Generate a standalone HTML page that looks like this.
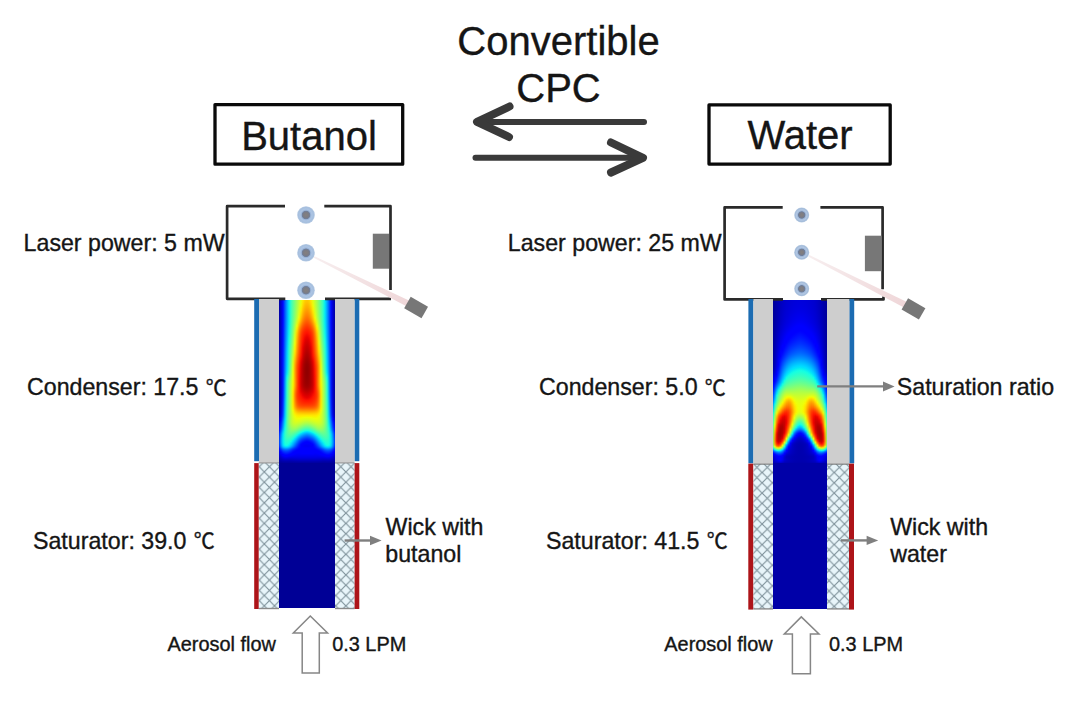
<!DOCTYPE html>
<html><head><meta charset="utf-8"><title>Convertible CPC</title>
<style>
html,body{margin:0;padding:0;background:#fff;}
#c{position:relative;width:1080px;height:701px;overflow:hidden;background:#fff;}
.hm{position:absolute;display:flex;flex-direction:column;}
.hm i{display:block;height:1px;flex:none;}
.sb{position:absolute;background:#00009c;}
svg{position:absolute;left:0;top:0;}
text{font-family:"Liberation Sans",sans-serif;fill:#151515;stroke:#151515;stroke-width:0.35px;}
.big{font-size:40px;}
.lab{font-size:23.2px;}
.sm{font-size:19.9px;}
.deg{font-family:"Liberation Sans","Noto Sans CJK SC",sans-serif;font-size:21px;}
</style></head><body><div id="c">
<div class="sb" style="left:279px;top:462px;width:56px;height:146px;background:#000096"></div>
<div class="sb" style="left:773px;top:462px;width:54px;height:146.8px;background:#0000a8"></div>
<div class="hm" style="left:279px;top:300px;width:56px;height:163px"><i style="background:linear-gradient(90deg,#0000a2,#0000cc,#0008ff,#005aff,#00a4ff,#02e8f5,#32ffc5,#5aff9d,#7eff79,#a1ff55,#c3ff34,#e3ff14,#ffe700,#ffcd00,#ffc500,#ffcd00,#ffe700,#e3ff14,#c3ff34,#a1ff55,#7eff79,#5aff9d,#32ffc5,#02e8f5,#00a4ff,#005aff,#0008ff,#0000cc,#0000a2)"></i><i style="background:linear-gradient(90deg,#0000a2,#0000cc,#0008ff,#005aff,#00a4ff,#02e8f5,#32ffc5,#5aff9d,#7eff79,#a2ff55,#c4ff33,#e4ff12,#ffe400,#ffca00,#ffc200,#ffca00,#ffe400,#e4ff12,#c4ff33,#a2ff55,#7eff79,#5aff9d,#32ffc5,#02e8f5,#00a4ff,#005aff,#0008ff,#0000cc,#0000a2)"></i><i style="background:linear-gradient(90deg,#0000a2,#0000cc,#0008ff,#005aff,#00a4ff,#02e8f5,#32ffc5,#5aff9d,#7fff78,#a2ff55,#c5ff32,#e6ff10,#ffe100,#ffc700,#ffbf00,#ffc700,#ffe100,#e6ff10,#c5ff32,#a2ff55,#7fff78,#5aff9d,#32ffc5,#02e8f5,#00a4ff,#005aff,#0008ff,#0000cc,#0000a2)"></i><i style="background:linear-gradient(90deg,#0000a2,#0000cc,#0008ff,#005aff,#00a4ff,#02e8f5,#32ffc5,#5aff9c,#7fff78,#a3ff54,#c6ff30,#e9ff0e,#ffdd00,#ffc300,#ffba00,#ffc300,#ffdd00,#e9ff0e,#c6ff30,#a3ff54,#7fff78,#5aff9c,#32ffc5,#02e8f5,#00a4ff,#005aff,#0008ff,#0000cc,#0000a2)"></i><i style="background:linear-gradient(90deg,#0000a2,#0000cc,#0008ff,#005aff,#00a4ff,#02e8f5,#32ffc5,#5bff9c,#7fff77,#a4ff53,#c8ff2f,#ecff0b,#ffda00,#ffbf00,#ffb600,#ffbf00,#ffda00,#ecff0b,#c8ff2f,#a4ff53,#7fff77,#5bff9c,#32ffc5,#02e8f5,#00a4ff,#005aff,#0008ff,#0000cc,#0000a2)"></i><i style="background:linear-gradient(90deg,#0000a2,#0000cc,#0008ff,#005aff,#00a4ff,#02e7f5,#32ffc5,#5bff9c,#80ff77,#a5ff52,#caff2d,#eeff08,#ffd600,#ffba00,#ffb200,#ffba00,#ffd600,#eeff08,#caff2d,#a5ff52,#80ff77,#5bff9c,#32ffc5,#02e7f5,#00a4ff,#005aff,#0008ff,#0000cc,#0000a2)"></i><i style="background:linear-gradient(90deg,#0000a2,#0000cc,#0008ff,#005aff,#00a4ff,#02e7f5,#32ffc5,#5cff9b,#81ff76,#a6ff51,#ccff2b,#f1fc05,#ffd200,#ffb600,#ffad00,#ffb600,#ffd200,#f1fc05,#ccff2b,#a6ff51,#81ff76,#5cff9b,#32ffc5,#02e7f5,#00a4ff,#005aff,#0008ff,#0000cc,#0000a2)"></i><i style="background:linear-gradient(90deg,#0000a2,#0000cc,#0008ff,#005aff,#00a4ff,#02e7f5,#32ffc5,#5cff9b,#82ff75,#a8ff4f,#ceff28,#f5f802,#ffcd00,#ffb200,#ffa900,#ffb200,#ffcd00,#f5f802,#ceff28,#a8ff4f,#82ff75,#5cff9b,#32ffc5,#02e7f5,#00a4ff,#005aff,#0008ff,#0000cc,#0000a2)"></i><i style="background:linear-gradient(90deg,#0000a2,#0000cc,#0008ff,#005aff,#00a4ff,#02e7f5,#32ffc4,#5dff9a,#83ff74,#a9ff4e,#d1ff26,#f8f400,#ffc900,#ffad00,#ffa400,#ffad00,#ffc900,#f8f400,#d1ff26,#a9ff4e,#83ff74,#5dff9a,#32ffc4,#02e7f5,#00a4ff,#005aff,#0008ff,#0000cc,#0000a2)"></i><i style="background:linear-gradient(90deg,#0000a2,#0000cc,#0008ff,#005aff,#00a4ff,#02e7f5,#33ffc4,#5dff9a,#84ff73,#abff4c,#d3ff23,#fcf000,#ffc400,#ffa800,#ff9f00,#ffa800,#ffc400,#fcf000,#d3ff23,#abff4c,#84ff73,#5dff9a,#33ffc4,#02e7f5,#00a4ff,#005aff,#0008ff,#0000cc,#0000a2)"></i><i style="background:linear-gradient(90deg,#0000a2,#0000cc,#0008ff,#005aff,#00a4ff,#02e7f5,#33ffc4,#5eff99,#85ff72,#adff4a,#d6ff20,#ffeb00,#ffc000,#ffa400,#ff9a00,#ffa400,#ffc000,#ffeb00,#d6ff20,#adff4a,#85ff72,#5eff99,#33ffc4,#02e7f5,#00a4ff,#005aff,#0008ff,#0000cc,#0000a2)"></i><i style="background:linear-gradient(90deg,#0000a2,#0000cc,#0008ff,#005aff,#00a4ff,#02e7f5,#33ffc4,#5fff98,#86ff71,#afff48,#d9ff1d,#ffe700,#ffbb00,#ff9f00,#ff9500,#ff9f00,#ffbb00,#ffe700,#d9ff1d,#afff48,#86ff71,#5fff98,#33ffc4,#02e7f5,#00a4ff,#005aff,#0008ff,#0000cc,#0000a2)"></i><i style="background:linear-gradient(90deg,#0000a2,#0000cc,#0008ff,#005aff,#00a4ff,#02e7f5,#33ffc4,#5fff98,#87ff6f,#b1ff46,#dcff1a,#ffe200,#ffb600,#ff9a00,#ff9000,#ff9a00,#ffb600,#ffe200,#dcff1a,#b1ff46,#87ff6f,#5fff98,#33ffc4,#02e7f5,#00a4ff,#005aff,#0008ff,#0000cc,#0000a2)"></i><i style="background:linear-gradient(90deg,#0000a2,#0000cc,#0008ff,#005aff,#00a4ff,#02e7f5,#33ffc3,#60ff97,#89ff6e,#b3ff44,#e0ff17,#ffde00,#ffb100,#ff9500,#ff8b00,#ff9500,#ffb100,#ffde00,#e0ff17,#b3ff44,#89ff6e,#60ff97,#33ffc3,#02e7f5,#00a4ff,#005aff,#0008ff,#0000cc,#0000a2)"></i><i style="background:linear-gradient(90deg,#0000a2,#0000cc,#0008ff,#005aff,#00a4ff,#02e7f5,#34ffc3,#61ff96,#8aff6d,#b5ff42,#e3ff14,#ffd900,#ffac00,#ff9000,#ff8600,#ff9000,#ffac00,#ffd900,#e3ff14,#b5ff42,#8aff6d,#61ff96,#34ffc3,#02e7f5,#00a4ff,#005aff,#0008ff,#0000cc,#0000a2)"></i><i style="background:linear-gradient(90deg,#0000a2,#0000cc,#0008ff,#005aff,#00a4ff,#02e8f5,#34ffc3,#62ff95,#8bff6b,#b7ff3f,#e6ff11,#ffd400,#ffa700,#ff8a00,#ff8100,#ff8a00,#ffa700,#ffd400,#e6ff11,#b7ff3f,#8bff6b,#62ff95,#34ffc3,#02e8f5,#00a4ff,#005aff,#0008ff,#0000cc,#0000a2)"></i><i style="background:linear-gradient(90deg,#0000a2,#0000cc,#0008ff,#005aff,#00a4ff,#02e8f5,#34ffc3,#62ff94,#8dff6a,#baff3d,#eaff0d,#ffce00,#ffa100,#ff8500,#ff7b00,#ff8500,#ffa100,#ffce00,#eaff0d,#baff3d,#8dff6a,#62ff94,#34ffc3,#02e8f5,#00a4ff,#005aff,#0008ff,#0000cc,#0000a2)"></i><i style="background:linear-gradient(90deg,#0000a2,#0000cc,#0008ff,#005aff,#00a4ff,#02e8f5,#35ffc2,#63ff93,#8fff68,#bdff3a,#eeff08,#ffc800,#ff9b00,#ff7f00,#ff7500,#ff7f00,#ff9b00,#ffc800,#eeff08,#bdff3a,#8fff68,#63ff93,#35ffc2,#02e8f5,#00a4ff,#005aff,#0008ff,#0000cc,#0000a2)"></i><i style="background:linear-gradient(90deg,#0000a2,#0000cc,#0008ff,#005bff,#00a4ff,#02e8f5,#35ffc2,#65ff92,#92ff65,#c1ff36,#f4f903,#ffc100,#ff9400,#ff7900,#ff6f00,#ff7900,#ff9400,#ffc100,#f4f903,#c1ff36,#92ff65,#65ff92,#35ffc2,#02e8f5,#00a4ff,#005bff,#0008ff,#0000cc,#0000a2)"></i><i style="background:linear-gradient(90deg,#0000a2,#0000cc,#0009ff,#005bff,#00a5ff,#02e8f4,#36ffc1,#66ff91,#95ff62,#c6ff31,#faf200,#ffba00,#ff8d00,#ff7200,#ff6900,#ff7200,#ff8d00,#ffba00,#faf200,#c6ff31,#95ff62,#66ff91,#36ffc1,#02e8f4,#00a5ff,#005bff,#0009ff,#0000cc,#0000a2)"></i><i style="background:linear-gradient(90deg,#0000a2,#0000cc,#0009ff,#005bff,#00a5ff,#03e9f4,#37ffc0,#68ff8f,#98ff5f,#cbff2c,#ffeb00,#ffb100,#ff8600,#ff6b00,#ff6200,#ff6b00,#ff8600,#ffb100,#ffeb00,#cbff2c,#98ff5f,#68ff8f,#37ffc0,#03e9f4,#00a5ff,#005bff,#0009ff,#0000cc,#0000a2)"></i><i style="background:linear-gradient(90deg,#0000a2,#0000cc,#0009ff,#005cff,#00a5ff,#03eaf3,#37ffbf,#6aff8d,#9cff5b,#d1ff26,#ffe300,#ffa900,#ff7e00,#ff6400,#ff5b00,#ff6400,#ff7e00,#ffa900,#ffe300,#d1ff26,#9cff5b,#6aff8d,#37ffbf,#03eaf3,#00a5ff,#005cff,#0009ff,#0000cc,#0000a2)"></i><i style="background:linear-gradient(90deg,#0000a2,#0000cc,#0009ff,#005cff,#00a6ff,#04eaf3,#39ffbe,#6cff8b,#a0ff57,#d7ff20,#ffda00,#ffa000,#ff7500,#ff5d00,#ff5400,#ff5d00,#ff7500,#ffa000,#ffda00,#d7ff20,#a0ff57,#6cff8b,#39ffbe,#04eaf3,#00a6ff,#005cff,#0009ff,#0000cc,#0000a2)"></i><i style="background:linear-gradient(90deg,#0000a2,#0000cb,#0009ff,#005dff,#00a6ff,#05ebf2,#3affbd,#6eff89,#a4ff53,#ddff1a,#ffd100,#ff9600,#ff6d00,#ff5600,#ff4d00,#ff5600,#ff6d00,#ff9600,#ffd100,#ddff1a,#a4ff53,#6eff89,#3affbd,#05ebf2,#00a6ff,#005dff,#0009ff,#0000cb,#0000a2)"></i><i style="background:linear-gradient(90deg,#0000a2,#0000cb,#000aff,#005dff,#00a7ff,#05ecf1,#3bffbc,#70ff87,#a9ff4e,#e4ff13,#ffc800,#ff8d00,#ff6500,#ff4e00,#ff4600,#ff4e00,#ff6500,#ff8d00,#ffc800,#e4ff13,#a9ff4e,#70ff87,#3bffbc,#05ecf1,#00a7ff,#005dff,#000aff,#0000cb,#0000a2)"></i><i style="background:linear-gradient(90deg,#0000a2,#0000cb,#000aff,#005eff,#00a8ff,#06edf1,#3cffbb,#72ff85,#adff49,#ebff0c,#ffbf00,#ff8300,#ff5c00,#ff4700,#ff3f00,#ff4700,#ff5c00,#ff8300,#ffbf00,#ebff0c,#adff49,#72ff85,#3cffbb,#06edf1,#00a8ff,#005eff,#000aff,#0000cb,#0000a2)"></i><i style="background:linear-gradient(90deg,#0000a2,#0000cb,#000aff,#005eff,#00a8ff,#07eef0,#3dffb9,#75ff82,#b2ff45,#f2fc05,#ffb600,#ff7a00,#ff5400,#ff4000,#ff3800,#ff4000,#ff5400,#ff7a00,#ffb600,#f2fc05,#b2ff45,#75ff82,#3dffb9,#07eef0,#00a8ff,#005eff,#000aff,#0000cb,#0000a2)"></i><i style="background:linear-gradient(90deg,#0000a2,#0000cb,#000bff,#005fff,#00a9ff,#08efef,#3fffb8,#77ff80,#b7ff40,#f8f400,#ffad00,#ff7100,#ff4c00,#ff3900,#ff3100,#ff3900,#ff4c00,#ff7100,#ffad00,#f8f400,#b7ff40,#77ff80,#3fffb8,#08efef,#00a9ff,#005fff,#000bff,#0000cb,#0000a2)"></i><i style="background:linear-gradient(90deg,#0000a2,#0000cb,#000bff,#0060ff,#00aaff,#09f0ee,#40ffb7,#79ff7d,#bbff3b,#ffec00,#ffa400,#ff6800,#ff4500,#ff3200,#ff2b00,#ff3200,#ff4500,#ff6800,#ffa400,#ffec00,#bbff3b,#79ff7d,#40ffb7,#09f0ee,#00aaff,#0060ff,#000bff,#0000cb,#0000a2)"></i><i style="background:linear-gradient(90deg,#0000a2,#0000cb,#000bff,#0061ff,#00abff,#0af2ed,#42ffb5,#7cff7b,#c0ff37,#ffe500,#ff9c00,#ff6000,#ff3e00,#ff2b00,#ff2400,#ff2b00,#ff3e00,#ff6000,#ff9c00,#ffe500,#c0ff37,#7cff7b,#42ffb5,#0af2ed,#00abff,#0061ff,#000bff,#0000cb,#0000a2)"></i><i style="background:linear-gradient(90deg,#0000a2,#0000cb,#000cff,#0061ff,#00acff,#0bf3ec,#43ffb4,#7eff78,#c4ff32,#ffde00,#ff9500,#ff5900,#ff3700,#ff2500,#ff1e00,#ff2500,#ff3700,#ff5900,#ff9500,#ffde00,#c4ff32,#7eff78,#43ffb4,#0bf3ec,#00acff,#0061ff,#000cff,#0000cb,#0000a2)"></i><i style="background:linear-gradient(90deg,#0000a2,#0000cb,#000cff,#0062ff,#00acff,#0cf4eb,#45ffb2,#81ff76,#c9ff2e,#ffd800,#ff8e00,#ff5200,#ff3100,#ff1f00,#ff1900,#ff1f00,#ff3100,#ff5200,#ff8e00,#ffd800,#c9ff2e,#81ff76,#45ffb2,#0cf4eb,#00acff,#0062ff,#000cff,#0000cb,#0000a2)"></i><i style="background:linear-gradient(90deg,#0000a2,#0000cb,#000cff,#0063ff,#00adff,#0df5ea,#46ffb1,#83ff74,#cdff2a,#ffd200,#ff8800,#ff4d00,#ff2b00,#ff1a00,#ff1300,#ff1a00,#ff2b00,#ff4d00,#ff8800,#ffd200,#cdff2a,#83ff74,#46ffb1,#0df5ea,#00adff,#0063ff,#000cff,#0000cb,#0000a2)"></i><i style="background:linear-gradient(90deg,#0000a2,#0000cb,#000cff,#0063ff,#00aeff,#0ef6e9,#47ffaf,#86ff71,#d0ff26,#ffcd00,#ff8300,#ff4800,#ff2700,#ff1600,#fa0f00,#ff1600,#ff2700,#ff4800,#ff8300,#ffcd00,#d0ff26,#86ff71,#47ffaf,#0ef6e9,#00aeff,#0063ff,#000cff,#0000cb,#0000a2)"></i><i style="background:linear-gradient(90deg,#0000a2,#0000cc,#000dff,#0064ff,#00afff,#0ff8e8,#49ffae,#88ff6f,#d4ff23,#ffc900,#ff7f00,#ff4400,#ff2300,#fd1100,#f50a00,#fd1100,#ff2300,#ff4400,#ff7f00,#ffc900,#d4ff23,#88ff6f,#49ffae,#0ff8e8,#00afff,#0064ff,#000dff,#0000cc,#0000a2)"></i><i style="background:linear-gradient(90deg,#0000a2,#0000cc,#000dff,#0065ff,#00b0ff,#10f9e7,#4bffac,#8aff6d,#d7ff20,#ffc500,#ff7c00,#ff4100,#ff1f00,#f80d00,#f00600,#f80d00,#ff1f00,#ff4100,#ff7c00,#ffc500,#d7ff20,#8aff6d,#4bffac,#10f9e7,#00b0ff,#0065ff,#000dff,#0000cc,#0000a2)"></i><i style="background:linear-gradient(90deg,#0000a2,#0000cc,#000dff,#0065ff,#00b1ff,#11fbe6,#4cffaa,#8dff6a,#daff1d,#ffc100,#ff7800,#ff3e00,#ff1c00,#f40a00,#eb0200,#f40a00,#ff1c00,#ff3e00,#ff7800,#ffc100,#daff1d,#8dff6a,#4cffaa,#11fbe6,#00b1ff,#0065ff,#000dff,#0000cc,#0000a2)"></i><i style="background:linear-gradient(90deg,#0000a2,#0000cc,#000eff,#0066ff,#00b3ff,#13fce4,#4effa9,#8fff68,#ddff1a,#ffbe00,#ff7500,#ff3b00,#ff1900,#ef0600,#e60000,#ef0600,#ff1900,#ff3b00,#ff7500,#ffbe00,#ddff1a,#8fff68,#4effa9,#13fce4,#00b3ff,#0066ff,#000eff,#0000cc,#0000a2)"></i><i style="background:linear-gradient(90deg,#0000a2,#0000cc,#000eff,#0067ff,#00b4ff,#14fee3,#50ffa7,#92ff65,#e0ff17,#ffba00,#ff7300,#ff3900,#ff1600,#eb0300,#e20000,#eb0300,#ff1600,#ff3900,#ff7300,#ffba00,#e0ff17,#92ff65,#50ffa7,#14fee3,#00b4ff,#0067ff,#000eff,#0000cc,#0000a2)"></i><i style="background:linear-gradient(90deg,#0000a2,#0000cc,#000eff,#0067ff,#00b6ff,#16ffe1,#52ffa5,#94ff62,#e3ff14,#ffb700,#ff7000,#ff3700,#ff1300,#e70000,#dd0000,#e70000,#ff1300,#ff3700,#ff7000,#ffb700,#e3ff14,#94ff62,#52ffa5,#16ffe1,#00b6ff,#0067ff,#000eff,#0000cc,#0000a2)"></i><i style="background:linear-gradient(90deg,#0000a2,#0000cd,#000fff,#0068ff,#00b7ff,#17ffdf,#54ffa2,#97ff60,#e6ff11,#ffb400,#ff6e00,#ff3400,#fc1000,#e30000,#d90000,#e30000,#fc1000,#ff3400,#ff6e00,#ffb400,#e6ff11,#97ff60,#54ffa2,#17ffdf,#00b7ff,#0068ff,#000fff,#0000cd,#0000a2)"></i><i style="background:linear-gradient(90deg,#0000a2,#0000cd,#000fff,#0069ff,#00b9ff,#19ffde,#57ffa0,#9aff5d,#e9ff0e,#ffb100,#ff6b00,#ff3200,#f90e00,#df0000,#d50000,#df0000,#f90e00,#ff3200,#ff6b00,#ffb100,#e9ff0e,#9aff5d,#57ffa0,#19ffde,#00b9ff,#0069ff,#000fff,#0000cd,#0000a2)"></i><i style="background:linear-gradient(90deg,#0000a2,#0000cd,#0010ff,#006aff,#00bbff,#1bffdc,#59ff9e,#9cff5a,#ecff0b,#ffaf00,#ff6900,#ff3100,#f60b00,#db0000,#d10000,#db0000,#f60b00,#ff3100,#ff6900,#ffaf00,#ecff0b,#9cff5a,#59ff9e,#1bffdc,#00bbff,#006aff,#0010ff,#0000cd,#0000a2)"></i><i style="background:linear-gradient(90deg,#0000a2,#0000ce,#0010ff,#006bff,#00bcff,#1dffda,#5bff9c,#9fff58,#eeff08,#ffac00,#ff6700,#ff2f00,#f30900,#d80000,#ce0000,#d80000,#f30900,#ff2f00,#ff6700,#ffac00,#eeff08,#9fff58,#5bff9c,#1dffda,#00bcff,#006bff,#0010ff,#0000ce,#0000a2)"></i><i style="background:linear-gradient(90deg,#0000a2,#0000ce,#0010ff,#006bff,#00beff,#1fffd8,#5dff99,#a2ff55,#f1fc06,#ffa900,#ff6500,#ff2d00,#f00700,#d50000,#ca0000,#d50000,#f00700,#ff2d00,#ff6500,#ffa900,#f1fc06,#a2ff55,#5dff99,#1fffd8,#00beff,#006bff,#0010ff,#0000ce,#0000a2)"></i><i style="background:linear-gradient(90deg,#0000a2,#0000ce,#0011ff,#006cff,#00c0ff,#21ffd6,#60ff97,#a5ff52,#f4f903,#ffa600,#ff6300,#ff2b00,#ed0500,#d10000,#c60000,#d10000,#ed0500,#ff2b00,#ff6300,#ffa600,#f4f903,#a5ff52,#60ff97,#21ffd6,#00c0ff,#006cff,#0011ff,#0000ce,#0000a2)"></i><i style="background:linear-gradient(90deg,#0000a3,#0000cf,#0011ff,#006dff,#00c1ff,#23ffd4,#62ff95,#a8ff4f,#f7f500,#ffa400,#ff6100,#ff2900,#eb0200,#ce0000,#c30000,#ce0000,#eb0200,#ff2900,#ff6100,#ffa400,#f7f500,#a8ff4f,#62ff95,#23ffd4,#00c1ff,#006dff,#0011ff,#0000cf,#0000a3)"></i><i style="background:linear-gradient(90deg,#0000a3,#0000cf,#0012ff,#006eff,#00c3ff,#24ffd2,#64ff92,#aaff4c,#faf200,#ffa100,#ff5e00,#ff2700,#e80000,#cb0000,#c00000,#cb0000,#e80000,#ff2700,#ff5e00,#ffa100,#faf200,#aaff4c,#64ff92,#24ffd2,#00c3ff,#006eff,#0012ff,#0000cf,#0000a3)"></i><i style="background:linear-gradient(90deg,#0000a3,#0000cf,#0012ff,#006fff,#00c5ff,#26ffd1,#67ff90,#adff4a,#fdef00,#ff9e00,#ff5c00,#ff2500,#e50000,#c80000,#bd0000,#c80000,#e50000,#ff2500,#ff5c00,#ff9e00,#fdef00,#adff4a,#67ff90,#26ffd1,#00c5ff,#006fff,#0012ff,#0000cf,#0000a3)"></i><i style="background:linear-gradient(90deg,#0000a3,#0000cf,#0013ff,#0070ff,#00c6ff,#28ffcf,#69ff8e,#b0ff47,#ffec00,#ff9b00,#ff5a00,#ff2300,#e30000,#c50000,#ba0000,#c50000,#e30000,#ff2300,#ff5a00,#ff9b00,#ffec00,#b0ff47,#69ff8e,#28ffcf,#00c6ff,#0070ff,#0013ff,#0000cf,#0000a3)"></i><i style="background:linear-gradient(90deg,#0000a3,#0000cf,#0013ff,#0070ff,#00c8ff,#29ffcd,#6bff8c,#b3ff44,#ffe800,#ff9800,#ff5700,#ff2100,#e00000,#c20000,#b70000,#c20000,#e00000,#ff2100,#ff5700,#ff9800,#ffe800,#b3ff44,#6bff8c,#29ffcd,#00c8ff,#0070ff,#0013ff,#0000cf,#0000a3)"></i><i style="background:linear-gradient(90deg,#0000a3,#0000cf,#0013ff,#0071ff,#00c9ff,#2bffcc,#6dff8a,#b6ff41,#ffe500,#ff9500,#ff5500,#ff1f00,#dd0000,#bf0000,#b40000,#bf0000,#dd0000,#ff1f00,#ff5500,#ff9500,#ffe500,#b6ff41,#6dff8a,#2bffcc,#00c9ff,#0071ff,#0013ff,#0000cf,#0000a3)"></i><i style="background:linear-gradient(90deg,#0000a3,#0000d0,#0014ff,#0072ff,#00caff,#2cffcb,#6fff88,#b8ff3e,#ffe100,#ff9100,#ff5200,#ff1d00,#da0000,#bc0000,#b10000,#bc0000,#da0000,#ff1d00,#ff5200,#ff9100,#ffe100,#b8ff3e,#6fff88,#2cffcb,#00caff,#0072ff,#0014ff,#0000d0,#0000a3)"></i><i style="background:linear-gradient(90deg,#0000a3,#0000d0,#0014ff,#0073ff,#00cbff,#2dffc9,#71ff86,#bbff3b,#ffdd00,#ff8e00,#ff4f00,#ff1a00,#d70000,#b90000,#ae0000,#b90000,#d70000,#ff1a00,#ff4f00,#ff8e00,#ffdd00,#bbff3b,#71ff86,#2dffc9,#00cbff,#0073ff,#0014ff,#0000d0,#0000a3)"></i><i style="background:linear-gradient(90deg,#0000a3,#0000d0,#0014ff,#0073ff,#00ccff,#2effc8,#73ff84,#beff38,#ffd900,#ff8a00,#ff4b00,#ff1700,#d40000,#b60000,#ab0000,#b60000,#d40000,#ff1700,#ff4b00,#ff8a00,#ffd900,#beff38,#73ff84,#2effc8,#00ccff,#0073ff,#0014ff,#0000d0,#0000a3)"></i><i style="background:linear-gradient(90deg,#0000a3,#0000d0,#0015ff,#0074ff,#00cdff,#2fffc7,#75ff82,#c2ff35,#ffd400,#ff8500,#ff4800,#ff1400,#d10000,#b30000,#a80000,#b30000,#d10000,#ff1400,#ff4800,#ff8500,#ffd400,#c2ff35,#75ff82,#2fffc7,#00cdff,#0074ff,#0015ff,#0000d0,#0000a3)"></i><i style="background:linear-gradient(90deg,#0000a3,#0000d0,#0015ff,#0075ff,#00ceff,#30ffc6,#77ff80,#c5ff32,#ffcf00,#ff8100,#ff4400,#fd1100,#cd0000,#b00000,#a60000,#b00000,#cd0000,#fd1100,#ff4400,#ff8100,#ffcf00,#c5ff32,#77ff80,#30ffc6,#00ceff,#0075ff,#0015ff,#0000d0,#0000a3)"></i><i style="background:linear-gradient(90deg,#0000a3,#0000d0,#0016ff,#0076ff,#00ceff,#31ffc5,#79ff7e,#c8ff2e,#ffca00,#ff7c00,#ff4000,#f90e00,#ca0000,#ad0000,#a30000,#ad0000,#ca0000,#f90e00,#ff4000,#ff7c00,#ffca00,#c8ff2e,#79ff7e,#31ffc5,#00ceff,#0076ff,#0016ff,#0000d0,#0000a3)"></i><i style="background:linear-gradient(90deg,#0000a3,#0000d0,#0016ff,#0077ff,#00cfff,#32ffc4,#7aff7c,#ccff2b,#ffc500,#ff7700,#ff3c00,#f50b00,#c60000,#aa0000,#a00000,#aa0000,#c60000,#f50b00,#ff3c00,#ff7700,#ffc500,#ccff2b,#7aff7c,#32ffc4,#00cfff,#0077ff,#0016ff,#0000d0,#0000a3)"></i><i style="background:linear-gradient(90deg,#0000a3,#0000d0,#0016ff,#0077ff,#00d0ff,#33ffc4,#7cff7b,#cfff28,#ffc100,#ff7300,#ff3900,#f10700,#c30000,#a70000,#9d0000,#a70000,#c30000,#f10700,#ff3900,#ff7300,#ffc100,#cfff28,#7cff7b,#33ffc4,#00d0ff,#0077ff,#0016ff,#0000d0,#0000a3)"></i><i style="background:linear-gradient(90deg,#0000a3,#0000d0,#0017ff,#0078ff,#00d1ff,#34ffc3,#7eff79,#d2ff25,#ffbc00,#ff6e00,#ff3500,#ed0400,#c00000,#a50000,#9b0000,#a50000,#c00000,#ed0400,#ff3500,#ff6e00,#ffbc00,#d2ff25,#7eff79,#34ffc3,#00d1ff,#0078ff,#0017ff,#0000d0,#0000a3)"></i><i style="background:linear-gradient(90deg,#0000a3,#0000d0,#0017ff,#0079ff,#00d1ff,#35ffc2,#80ff77,#d5ff21,#ffb700,#ff6a00,#ff3100,#e90100,#bc0000,#a20000,#980000,#a20000,#bc0000,#e90100,#ff3100,#ff6a00,#ffb700,#d5ff21,#80ff77,#35ffc2,#00d1ff,#0079ff,#0017ff,#0000d0,#0000a3)"></i><i style="background:linear-gradient(90deg,#0000a2,#0000d0,#0018ff,#007aff,#00d2ff,#36ffc1,#82ff75,#d8ff1e,#ffb300,#ff6500,#ff2d00,#e50000,#ba0000,#a00000,#960000,#a00000,#ba0000,#e50000,#ff2d00,#ff6500,#ffb300,#d8ff1e,#82ff75,#36ffc1,#00d2ff,#007aff,#0018ff,#0000d0,#0000a2)"></i><i style="background:linear-gradient(90deg,#0000a2,#0000d0,#0018ff,#007bff,#00d3ff,#37ffc0,#83ff73,#dbff1b,#ffaf00,#ff6200,#ff2a00,#e20000,#b70000,#9d0000,#940000,#9d0000,#b70000,#e20000,#ff2a00,#ff6200,#ffaf00,#dbff1b,#83ff73,#37ffc0,#00d3ff,#007bff,#0018ff,#0000d0,#0000a2)"></i><i style="background:linear-gradient(90deg,#0000a2,#0000d0,#0018ff,#007bff,#00d4ff,#38ffbf,#85ff71,#deff19,#ffab00,#ff5e00,#ff2700,#df0000,#b40000,#9b0000,#920000,#9b0000,#b40000,#df0000,#ff2700,#ff5e00,#ffab00,#deff19,#85ff71,#38ffbf,#00d4ff,#007bff,#0018ff,#0000d0,#0000a2)"></i><i style="background:linear-gradient(90deg,#0000a2,#0000d0,#0019ff,#007cff,#00d5ff,#39ffbd,#87ff70,#e0ff16,#ffa800,#ff5b00,#ff2400,#dc0000,#b20000,#9a0000,#910000,#9a0000,#b20000,#dc0000,#ff2400,#ff5b00,#ffa800,#e0ff16,#87ff70,#39ffbd,#00d5ff,#007cff,#0019ff,#0000d0,#0000a2)"></i><i style="background:linear-gradient(90deg,#0000a2,#0000cf,#0019ff,#007dff,#00d6ff,#3bffbc,#89ff6e,#e3ff14,#ffa600,#ff5900,#ff2200,#da0000,#b10000,#990000,#900000,#990000,#b10000,#da0000,#ff2200,#ff5900,#ffa600,#e3ff14,#89ff6e,#3bffbc,#00d6ff,#007dff,#0019ff,#0000cf,#0000a2)"></i><i style="background:linear-gradient(90deg,#0000a2,#0000cf,#0019ff,#007eff,#00d8ff,#3cffbb,#8bff6c,#e5ff12,#ffa400,#ff5700,#ff2000,#d80000,#b00000,#980000,#8f0000,#980000,#b00000,#d80000,#ff2000,#ff5700,#ffa400,#e5ff12,#8bff6c,#3cffbb,#00d8ff,#007eff,#0019ff,#0000cf,#0000a2)"></i><i style="background:linear-gradient(90deg,#0000a2,#0000cf,#001aff,#007fff,#00d9ff,#3effb9,#8dff6a,#e6ff11,#ffa300,#ff5500,#ff1e00,#d60000,#af0000,#970000,#8f0000,#970000,#af0000,#d60000,#ff1e00,#ff5500,#ffa300,#e6ff11,#8dff6a,#3effb9,#00d9ff,#007fff,#001aff,#0000cf,#0000a2)"></i><i style="background:linear-gradient(90deg,#0000a2,#0000cf,#001aff,#0080ff,#00dbff,#40ffb7,#8fff67,#e7ff0f,#ffa300,#ff5500,#ff1c00,#d50000,#af0000,#970000,#8e0000,#970000,#af0000,#d50000,#ff1c00,#ff5500,#ffa300,#e7ff0f,#8fff67,#40ffb7,#00dbff,#0080ff,#001aff,#0000cf,#0000a2)"></i><i style="background:linear-gradient(90deg,#0000a2,#0000cf,#001aff,#0082ff,#00defd,#42ffb4,#92ff65,#e9ff0e,#ffa300,#ff5400,#ff1b00,#d40000,#ae0000,#970000,#8f0000,#970000,#ae0000,#d40000,#ff1b00,#ff5400,#ffa300,#e9ff0e,#92ff65,#42ffb4,#00defd,#0082ff,#001aff,#0000cf,#0000a2)"></i><i style="background:linear-gradient(90deg,#0000a2,#0000cf,#001aff,#0083ff,#00e1fa,#46ffb1,#95ff62,#eaff0d,#ffa300,#ff5400,#ff1a00,#d40000,#ae0000,#970000,#8f0000,#970000,#ae0000,#d40000,#ff1a00,#ff5400,#ffa300,#eaff0d,#95ff62,#46ffb1,#00e1fa,#0083ff,#001aff,#0000cf,#0000a2)"></i><i style="background:linear-gradient(90deg,#0000a2,#0000cf,#001aff,#0085ff,#00e5f7,#4affad,#98ff5f,#ebff0c,#ffa300,#ff5400,#ff1900,#d30000,#ae0000,#970000,#8f0000,#970000,#ae0000,#d30000,#ff1900,#ff5400,#ffa300,#ebff0c,#98ff5f,#4affad,#00e5f7,#0085ff,#001aff,#0000cf,#0000a2)"></i><i style="background:linear-gradient(90deg,#0000a2,#0000ce,#001aff,#0087ff,#04eaf3,#4effa9,#9bff5c,#ecff0b,#ffa300,#ff5400,#ff1800,#d20000,#ae0000,#980000,#8f0000,#980000,#ae0000,#d20000,#ff1800,#ff5400,#ffa300,#ecff0b,#9bff5c,#4effa9,#04eaf3,#0087ff,#001aff,#0000ce,#0000a2)"></i><i style="background:linear-gradient(90deg,#0000a1,#0000ce,#001aff,#0089ff,#08efef,#53ffa4,#9eff59,#edff0a,#ffa400,#ff5400,#ff1700,#d10000,#ae0000,#980000,#900000,#980000,#ae0000,#d10000,#ff1700,#ff5400,#ffa400,#edff0a,#9eff59,#53ffa4,#08efef,#0089ff,#001aff,#0000ce,#0000a1)"></i><i style="background:linear-gradient(90deg,#0000a1,#0000cd,#001aff,#008bff,#0cf5eb,#58ff9f,#a2ff55,#eeff09,#ffa400,#ff5300,#ff1600,#d10000,#ae0000,#990000,#900000,#990000,#ae0000,#d10000,#ff1600,#ff5300,#ffa400,#eeff09,#a2ff55,#58ff9f,#0cf5eb,#008bff,#001aff,#0000cd,#0000a1)"></i><i style="background:linear-gradient(90deg,#0000a1,#0000cd,#001aff,#008dff,#11fae6,#5dff99,#a5ff52,#efff08,#ffa400,#ff5300,#ff1500,#d00000,#ae0000,#990000,#910000,#990000,#ae0000,#d00000,#ff1500,#ff5300,#ffa400,#efff08,#a5ff52,#5dff99,#11fae6,#008dff,#001aff,#0000cd,#0000a1)"></i><i style="background:linear-gradient(90deg,#0000a1,#0000cd,#001bff,#008fff,#15ffe2,#62ff94,#a8ff4e,#f0fe07,#ffa500,#ff5300,#ff1500,#d00000,#ae0000,#9a0000,#920000,#9a0000,#ae0000,#d00000,#ff1500,#ff5300,#ffa500,#f0fe07,#a8ff4e,#62ff94,#15ffe2,#008fff,#001bff,#0000cd,#0000a1)"></i><i style="background:linear-gradient(90deg,#0000a1,#0000cc,#001bff,#0091ff,#1affdd,#67ff8f,#acff4b,#f1fd06,#ffa500,#ff5300,#ff1400,#cf0000,#af0000,#9a0000,#930000,#9a0000,#af0000,#cf0000,#ff1400,#ff5300,#ffa500,#f1fd06,#acff4b,#67ff8f,#1affdd,#0091ff,#001bff,#0000cc,#0000a1)"></i><i style="background:linear-gradient(90deg,#0000a1,#0000cc,#001bff,#0093ff,#1effd9,#6cff8b,#afff48,#f1fc05,#ffa600,#ff5400,#ff1300,#cf0000,#af0000,#9b0000,#940000,#9b0000,#af0000,#cf0000,#ff1300,#ff5400,#ffa600,#f1fc05,#afff48,#6cff8b,#1effd9,#0093ff,#001bff,#0000cc,#0000a1)"></i><i style="background:linear-gradient(90deg,#0000a0,#0000cb,#001bff,#0095ff,#22ffd5,#70ff87,#b1ff45,#f2fb04,#ffa600,#ff5400,#ff1300,#ce0000,#af0000,#9c0000,#950000,#9c0000,#af0000,#ce0000,#ff1300,#ff5400,#ffa600,#f2fb04,#b1ff45,#70ff87,#22ffd5,#0095ff,#001bff,#0000cb,#0000a0)"></i><i style="background:linear-gradient(90deg,#0000a0,#0000cb,#001bff,#0097ff,#25ffd2,#74ff83,#b4ff43,#f3fa04,#ffa600,#ff5300,#ff1300,#ce0000,#af0000,#9c0000,#960000,#9c0000,#af0000,#ce0000,#ff1300,#ff5300,#ffa600,#f3fa04,#b4ff43,#74ff83,#25ffd2,#0097ff,#001bff,#0000cb,#0000a0)"></i><i style="background:linear-gradient(90deg,#0000a0,#0000cb,#001bff,#0099ff,#28ffcf,#76ff80,#b5ff41,#f4f903,#ffa600,#ff5300,#fe1200,#ce0000,#af0000,#9d0000,#970000,#9d0000,#af0000,#ce0000,#fe1200,#ff5300,#ffa600,#f4f903,#b5ff41,#76ff80,#28ffcf,#0099ff,#001bff,#0000cb,#0000a0)"></i><i style="background:linear-gradient(90deg,#0000a0,#0000cb,#001bff,#009aff,#2affcd,#78ff7f,#b7ff40,#f5f802,#ffa600,#ff5300,#fe1200,#ce0000,#b00000,#9e0000,#980000,#9e0000,#b00000,#ce0000,#fe1200,#ff5300,#ffa600,#f5f802,#b7ff40,#78ff7f,#2affcd,#009aff,#001bff,#0000cb,#0000a0)"></i><i style="background:linear-gradient(90deg,#0000a0,#0000cb,#001bff,#009bff,#2bffcc,#7aff7d,#b8ff3f,#f6f701,#ffa500,#ff5300,#fe1200,#ce0000,#b10000,#a00000,#9a0000,#a00000,#b10000,#ce0000,#fe1200,#ff5300,#ffa500,#f6f701,#b8ff3f,#7aff7d,#2bffcc,#009bff,#001bff,#0000cb,#0000a0)"></i><i style="background:linear-gradient(90deg,#0000a0,#0000cb,#001cff,#009cff,#2cffcb,#7aff7c,#b9ff3e,#f7f600,#ffa400,#ff5200,#fe1200,#d00000,#b20000,#a20000,#9c0000,#a20000,#b20000,#d00000,#fe1200,#ff5200,#ffa400,#f7f600,#b9ff3e,#7aff7c,#2cffcb,#009cff,#001cff,#0000cb,#0000a0)"></i><i style="background:linear-gradient(90deg,#0000a0,#0000ca,#001cff,#009dff,#2dffca,#7bff7c,#baff3d,#f8f400,#ffa100,#ff5000,#ff1300,#d20000,#b50000,#a50000,#a00000,#a50000,#b50000,#d20000,#ff1300,#ff5000,#ffa100,#f8f400,#baff3d,#7bff7c,#2dffca,#009dff,#001cff,#0000ca,#0000a0)"></i><i style="background:linear-gradient(90deg,#0000a0,#0000ca,#001cff,#009eff,#2effc9,#7cff7b,#baff3c,#faf200,#ff9d00,#ff4d00,#ff1300,#d50000,#b90000,#a90000,#a40000,#a90000,#b90000,#d50000,#ff1300,#ff4d00,#ff9d00,#faf200,#baff3c,#7cff7b,#2effc9,#009eff,#001cff,#0000ca,#0000a0)"></i><i style="background:linear-gradient(90deg,#0000a0,#0000ca,#001cff,#009fff,#2fffc8,#7cff7b,#bbff3c,#fcf000,#ff9800,#ff4b00,#ff1400,#d80000,#be0000,#af0000,#a90000,#af0000,#be0000,#d80000,#ff1400,#ff4b00,#ff9800,#fcf000,#bbff3c,#7cff7b,#2fffc8,#009fff,#001cff,#0000ca,#0000a0)"></i><i style="background:linear-gradient(90deg,#0000a0,#0000ca,#001dff,#00a0ff,#2fffc8,#7dff7a,#bcff3b,#feee00,#ff9300,#ff4800,#ff1600,#dc0000,#c30000,#b40000,#af0000,#b40000,#c30000,#dc0000,#ff1600,#ff4800,#ff9300,#feee00,#bcff3b,#7dff7a,#2fffc8,#00a0ff,#001dff,#0000ca,#0000a0)"></i><i style="background:linear-gradient(90deg,#0000a0,#0000ca,#001dff,#00a0ff,#30ffc7,#7dff7a,#bcff3b,#ffeb00,#ff8e00,#ff4500,#ff1700,#e10000,#c90000,#ba0000,#b50000,#ba0000,#c90000,#e10000,#ff1700,#ff4500,#ff8e00,#ffeb00,#bcff3b,#7dff7a,#30ffc7,#00a0ff,#001dff,#0000ca,#0000a0)"></i><i style="background:linear-gradient(90deg,#0000a0,#0000ca,#001eff,#00a1ff,#30ffc6,#7eff79,#bdff3a,#ffe900,#ff8900,#ff4200,#ff1800,#e60000,#cf0000,#c10000,#bb0000,#c10000,#cf0000,#e60000,#ff1800,#ff4200,#ff8900,#ffe900,#bdff3a,#7eff79,#30ffc6,#00a1ff,#001eff,#0000ca,#0000a0)"></i><i style="background:linear-gradient(90deg,#0000a0,#0000ca,#001eff,#00a2ff,#31ffc6,#7eff79,#bdff3a,#ffe800,#ff8600,#ff4000,#ff1a00,#eb0200,#d60000,#c80000,#c20000,#c80000,#d60000,#eb0200,#ff1a00,#ff4000,#ff8600,#ffe800,#bdff3a,#7eff79,#31ffc6,#00a2ff,#001eff,#0000ca,#0000a0)"></i><i style="background:linear-gradient(90deg,#0000a0,#0000ca,#001fff,#00a3ff,#32ffc5,#7eff78,#bdff39,#ffe700,#ff8300,#ff3e00,#ff1c00,#f00700,#dc0000,#cf0000,#c90000,#cf0000,#dc0000,#f00700,#ff1c00,#ff3e00,#ff8300,#ffe700,#bdff39,#7eff78,#32ffc5,#00a3ff,#001fff,#0000ca,#0000a0)"></i><i style="background:linear-gradient(90deg,#0000a0,#0000cb,#001fff,#00a4ff,#32ffc4,#7fff78,#beff39,#ffe600,#ff8100,#ff3e00,#ff1e00,#f50b00,#e20000,#d50000,#d00000,#d50000,#e20000,#f50b00,#ff1e00,#ff3e00,#ff8100,#ffe600,#beff39,#7fff78,#32ffc4,#00a4ff,#001fff,#0000cb,#0000a0)"></i><i style="background:linear-gradient(90deg,#0000a0,#0000cb,#0020ff,#00a5ff,#33ffc4,#7fff78,#beff39,#ffe500,#ff8100,#ff3e00,#ff2000,#f90e00,#e80100,#dc0000,#d70000,#dc0000,#e80100,#f90e00,#ff2000,#ff3e00,#ff8100,#ffe500,#beff39,#7fff78,#33ffc4,#00a5ff,#0020ff,#0000cb,#0000a0)"></i><i style="background:linear-gradient(90deg,#0000a0,#0000cb,#0020ff,#00a7ff,#34ffc3,#7fff77,#beff39,#ffe500,#ff8100,#ff3f00,#ff2200,#fe1200,#ee0500,#e30000,#de0000,#e30000,#ee0500,#fe1200,#ff2200,#ff3f00,#ff8100,#ffe500,#beff39,#7fff77,#34ffc3,#00a7ff,#0020ff,#0000cb,#0000a0)"></i><i style="background:linear-gradient(90deg,#0000a0,#0000cb,#0021ff,#00a8ff,#35ffc2,#80ff77,#beff39,#ffe600,#ff8300,#ff4100,#ff2500,#ff1600,#f40a00,#ea0100,#e50000,#ea0100,#f40a00,#ff1600,#ff2500,#ff4100,#ff8300,#ffe600,#beff39,#80ff77,#35ffc2,#00a8ff,#0021ff,#0000cb,#0000a0)"></i><i style="background:linear-gradient(90deg,#0000a0,#0000cb,#0022ff,#00aaff,#36ffc1,#80ff77,#beff39,#ffe600,#ff8500,#ff4400,#ff2800,#ff1a00,#fb0f00,#f10700,#ed0400,#f10700,#fb0f00,#ff1a00,#ff2800,#ff4400,#ff8500,#ffe600,#beff39,#80ff77,#36ffc1,#00aaff,#0022ff,#0000cb,#0000a0)"></i><i style="background:linear-gradient(90deg,#0000a0,#0000cc,#0024ff,#00acff,#37ffc0,#80ff76,#beff39,#ffe600,#ff8700,#ff4800,#ff2c00,#ff1f00,#ff1500,#f80e00,#f50b00,#f80e00,#ff1500,#ff1f00,#ff2c00,#ff4800,#ff8700,#ffe600,#beff39,#80ff76,#37ffc0,#00acff,#0024ff,#0000cc,#0000a0)"></i><i style="background:linear-gradient(90deg,#0000a0,#0000cc,#0025ff,#00aeff,#38ffbf,#81ff76,#beff39,#ffe700,#ff8a00,#ff4c00,#ff3100,#ff2400,#ff1a00,#ff1400,#fe1200,#ff1400,#ff1a00,#ff2400,#ff3100,#ff4c00,#ff8a00,#ffe700,#beff39,#81ff76,#38ffbf,#00aeff,#0025ff,#0000cc,#0000a0)"></i><i style="background:linear-gradient(90deg,#0000a0,#0000cd,#0026ff,#00b0ff,#39ffbe,#81ff76,#beff39,#ffe700,#ff8d00,#ff5100,#ff3600,#ff2900,#ff2000,#ff1b00,#ff1900,#ff1b00,#ff2000,#ff2900,#ff3600,#ff5100,#ff8d00,#ffe700,#beff39,#81ff76,#39ffbe,#00b0ff,#0026ff,#0000cd,#0000a0)"></i><i style="background:linear-gradient(90deg,#0000a0,#0000cd,#0028ff,#00b2ff,#3affbd,#81ff75,#beff38,#ffe800,#ff9100,#ff5600,#ff3b00,#ff2f00,#ff2700,#ff2300,#ff2200,#ff2300,#ff2700,#ff2f00,#ff3b00,#ff5600,#ff9100,#ffe800,#beff38,#81ff75,#3affbd,#00b2ff,#0028ff,#0000cd,#0000a0)"></i><i style="background:linear-gradient(90deg,#0000a0,#0000ce,#0029ff,#00b4ff,#3bffbc,#82ff75,#beff38,#ffe900,#ff9500,#ff5c00,#ff4100,#ff3500,#ff2e00,#ff2b00,#ff2b00,#ff2b00,#ff2e00,#ff3500,#ff4100,#ff5c00,#ff9500,#ffe900,#beff38,#82ff75,#3bffbc,#00b4ff,#0029ff,#0000ce,#0000a0)"></i><i style="background:linear-gradient(90deg,#0000a0,#0000ce,#002bff,#00b5ff,#3cffbb,#82ff75,#beff38,#ffea00,#ff9900,#ff6200,#ff4800,#ff3c00,#ff3700,#ff3500,#ff3400,#ff3500,#ff3700,#ff3c00,#ff4800,#ff6200,#ff9900,#ffea00,#beff38,#82ff75,#3cffbb,#00b5ff,#002bff,#0000ce,#0000a0)"></i><i style="background:linear-gradient(90deg,#0000a0,#0000cf,#002cff,#00b7ff,#3dffba,#82ff74,#beff39,#ffeb00,#ff9e00,#ff6900,#ff5000,#ff4500,#ff4100,#ff3f00,#ff3f00,#ff3f00,#ff4100,#ff4500,#ff5000,#ff6900,#ff9e00,#ffeb00,#beff39,#82ff74,#3dffba,#00b7ff,#002cff,#0000cf,#0000a0)"></i><i style="background:linear-gradient(90deg,#0000a1,#0000d0,#002eff,#00b9ff,#3effb9,#83ff74,#beff39,#feed00,#ffa400,#ff7300,#ff5b00,#ff5100,#ff4d00,#ff4c00,#ff4d00,#ff4c00,#ff4d00,#ff5100,#ff5b00,#ff7300,#ffa400,#feed00,#beff39,#83ff74,#3effb9,#00b9ff,#002eff,#0000d0,#0000a1)"></i><i style="background:linear-gradient(90deg,#0000a1,#0000d1,#002fff,#00bbff,#3fffb8,#83ff74,#bdff39,#fbf100,#ffac00,#ff7e00,#ff6800,#ff5f00,#ff5c00,#ff5c00,#ff5c00,#ff5c00,#ff5c00,#ff5f00,#ff6800,#ff7e00,#ffac00,#fbf100,#bdff39,#83ff74,#3fffb8,#00bbff,#002fff,#0000d1,#0000a1)"></i><i style="background:linear-gradient(90deg,#0000a2,#0000d2,#0031ff,#00bcff,#40ffb7,#84ff73,#bdff3a,#f8f500,#ffb500,#ff8c00,#ff7800,#ff7000,#ff6d00,#ff6d00,#ff6d00,#ff6d00,#ff6d00,#ff7000,#ff7800,#ff8c00,#ffb500,#f8f500,#bdff3a,#84ff73,#40ffb7,#00bcff,#0031ff,#0000d2,#0000a2)"></i><i style="background:linear-gradient(90deg,#0000a2,#0000d4,#0033ff,#00beff,#41ffb6,#84ff73,#bcff3b,#f3f903,#ffc000,#ff9b00,#ff8900,#ff8300,#ff8000,#ff7f00,#ff8000,#ff7f00,#ff8000,#ff8300,#ff8900,#ff9b00,#ffc000,#f3f903,#bcff3b,#84ff73,#41ffb6,#00beff,#0033ff,#0000d4,#0000a2)"></i><i style="background:linear-gradient(90deg,#0000a3,#0000d6,#0035ff,#00c0ff,#42ffb5,#84ff72,#bbff3c,#efff08,#ffcb00,#ffaa00,#ff9b00,#ff9600,#ff9300,#ff9300,#ff9300,#ff9300,#ff9300,#ff9600,#ff9b00,#ffaa00,#ffcb00,#efff08,#bbff3c,#84ff72,#42ffb5,#00c0ff,#0035ff,#0000d6,#0000a3)"></i><i style="background:linear-gradient(90deg,#0000a5,#0000d8,#0037ff,#00c2ff,#43ffb4,#85ff72,#b9ff3d,#eaff0c,#ffd500,#ffba00,#ffae00,#ffa900,#ffa700,#ffa600,#ffa600,#ffa600,#ffa700,#ffa900,#ffae00,#ffba00,#ffd500,#eaff0c,#b9ff3d,#85ff72,#43ffb4,#00c2ff,#0037ff,#0000d8,#0000a5)"></i><i style="background:linear-gradient(90deg,#0000a6,#0000da,#003aff,#00c4ff,#44ffb3,#85ff72,#b8ff3e,#e6ff11,#ffe000,#ffc800,#ffbf00,#ffbc00,#ffba00,#ffb900,#ffb900,#ffb900,#ffba00,#ffbc00,#ffbf00,#ffc800,#ffe000,#e6ff11,#b8ff3e,#85ff72,#44ffb3,#00c4ff,#003aff,#0000da,#0000a6)"></i><i style="background:linear-gradient(90deg,#0000a7,#0000dd,#003cff,#00c6ff,#45ffb2,#86ff71,#b7ff3f,#e2ff15,#ffe900,#ffd600,#ffcf00,#ffcc00,#ffcb00,#ffca00,#ffca00,#ffca00,#ffcb00,#ffcc00,#ffcf00,#ffd600,#ffe900,#e2ff15,#b7ff3f,#86ff71,#45ffb2,#00c6ff,#003cff,#0000dd,#0000a7)"></i><i style="background:linear-gradient(90deg,#0000a9,#0000e0,#0040ff,#00c8ff,#46ffb1,#86ff71,#b6ff40,#deff18,#faf200,#ffe100,#ffdc00,#ffdb00,#ffdb00,#ffda00,#ffda00,#ffda00,#ffdb00,#ffdb00,#ffdc00,#ffe100,#faf200,#deff18,#b6ff40,#86ff71,#46ffb1,#00c8ff,#0040ff,#0000e0,#0000a9)"></i><i style="background:linear-gradient(90deg,#0000ac,#0000e5,#0044ff,#00cbff,#47ffb0,#87ff70,#b6ff41,#dbff1b,#f4f802,#ffeb00,#ffe700,#ffe700,#ffe800,#ffe800,#ffe900,#ffe800,#ffe800,#ffe700,#ffe700,#ffeb00,#f4f802,#dbff1b,#b6ff41,#87ff70,#47ffb0,#00cbff,#0044ff,#0000e5,#0000ac)"></i><i style="background:linear-gradient(90deg,#0000b1,#0000ec,#004aff,#00ceff,#49ffae,#87ff6f,#b5ff42,#d9ff1e,#effe07,#f9f300,#fbf000,#faf100,#f9f300,#f8f500,#f7f500,#f8f500,#f9f300,#faf100,#fbf000,#f9f300,#effe07,#d9ff1e,#b5ff42,#87ff6f,#49ffae,#00ceff,#004aff,#0000ec,#0000b1)"></i><i style="background:linear-gradient(90deg,#0000b8,#0000f5,#0052ff,#00d2ff,#4affac,#88ff6f,#b5ff42,#d7ff20,#ebff0c,#f3fa04,#f4f802,#f3fa04,#f0fe07,#eeff09,#edff0a,#eeff09,#f0fe07,#f3fa04,#f4f802,#f3fa04,#ebff0c,#d7ff20,#b5ff42,#88ff6f,#4affac,#00d2ff,#0052ff,#0000f5,#0000b8)"></i><i style="background:linear-gradient(90deg,#0000c0,#0000ff,#005aff,#00d7ff,#4cffab,#89ff6e,#b4ff43,#d4ff22,#e7ff10,#eeff09,#eeff09,#ebff0c,#e7ff0f,#e4ff12,#e3ff13,#e4ff12,#e7ff0f,#ebff0c,#eeff09,#eeff09,#e7ff10,#d4ff22,#b4ff43,#89ff6e,#4cffab,#00d7ff,#005aff,#0000ff,#0000c0)"></i><i style="background:linear-gradient(90deg,#0000c9,#0000ff,#0063ff,#00dbff,#4effa9,#89ff6e,#b4ff43,#d2ff25,#e3ff14,#e8ff0f,#e7ff0f,#e4ff13,#dfff18,#dbff1c,#daff1d,#dbff1c,#dfff18,#e4ff13,#e7ff0f,#e8ff0f,#e3ff14,#d2ff25,#b4ff43,#89ff6e,#4effa9,#00dbff,#0063ff,#0000ff,#0000c9)"></i><i style="background:linear-gradient(90deg,#0000d2,#0007ff,#006dff,#00e0fb,#4fffa7,#8aff6d,#b3ff44,#d0ff27,#deff18,#e2ff15,#e0ff16,#dcff1b,#d6ff21,#d1ff26,#cfff28,#d1ff26,#d6ff21,#dcff1b,#e0ff16,#e2ff15,#deff18,#d0ff27,#b3ff44,#8aff6d,#4fffa7,#00e0fb,#006dff,#0007ff,#0000d2)"></i><i style="background:linear-gradient(90deg,#0000d9,#0010ff,#0075ff,#00e4f8,#50ffa6,#8aff6d,#b2ff45,#cdff2a,#d9ff1d,#dcff1b,#d8ff1e,#d3ff24,#cbff2c,#c5ff31,#c3ff33,#c5ff31,#cbff2c,#d3ff24,#d8ff1e,#dcff1b,#d9ff1d,#cdff2a,#b2ff45,#8aff6d,#50ffa6,#00e4f8,#0075ff,#0010ff,#0000d9)"></i><i style="background:linear-gradient(90deg,#0000e0,#0018ff,#007cff,#02e8f5,#51ffa6,#89ff6e,#b0ff47,#c9ff2e,#d4ff23,#d4ff23,#cfff28,#c8ff2e,#bfff38,#b8ff3e,#b6ff41,#b8ff3e,#bfff38,#c8ff2e,#cfff28,#d4ff23,#d4ff23,#c9ff2e,#b0ff47,#89ff6e,#51ffa6,#02e8f5,#007cff,#0018ff,#0000e0)"></i><i style="background:linear-gradient(90deg,#0000e5,#001eff,#0083ff,#05ecf1,#51ffa6,#88ff6f,#adff4a,#c4ff33,#cdff2a,#ccff2b,#c5ff32,#bcff3b,#b2ff45,#aaff4d,#a7ff50,#aaff4d,#b2ff45,#bcff3b,#c5ff32,#ccff2b,#cdff2a,#c4ff33,#adff4a,#88ff6f,#51ffa6,#05ecf1,#0083ff,#001eff,#0000e5)"></i><i style="background:linear-gradient(90deg,#0000e9,#0024ff,#0089ff,#08f0ee,#51ffa6,#85ff72,#a9ff4e,#beff39,#c5ff32,#c2ff34,#b9ff3e,#afff48,#a2ff55,#99ff5e,#96ff61,#99ff5e,#a2ff55,#afff48,#b9ff3e,#c2ff34,#c5ff32,#beff39,#a9ff4e,#85ff72,#51ffa6,#08f0ee,#0089ff,#0024ff,#0000e9)"></i><i style="background:linear-gradient(90deg,#0000ee,#0029ff,#008fff,#0bf4eb,#50ffa7,#82ff75,#a3ff53,#b7ff40,#bcff3a,#b8ff3f,#acff4a,#a0ff57,#92ff65,#87ff6f,#84ff73,#87ff6f,#92ff65,#a0ff57,#acff4a,#b8ff3f,#bcff3a,#b7ff40,#a3ff53,#82ff75,#50ffa7,#0bf4eb,#008fff,#0029ff,#0000ee)"></i><i style="background:linear-gradient(90deg,#0000f3,#002fff,#0095ff,#0ff8e8,#4fffa7,#7eff79,#9eff59,#afff48,#b3ff44,#adff4a,#9fff58,#90ff67,#80ff77,#75ff82,#71ff86,#75ff82,#80ff77,#90ff67,#9fff58,#adff4a,#b3ff44,#afff48,#9eff59,#7eff79,#4fffa7,#0ff8e8,#0095ff,#002fff,#0000f3)"></i><i style="background:linear-gradient(90deg,#0000f8,#0036ff,#009cff,#12fce5,#4fffa8,#7aff7d,#97ff60,#a6ff50,#a9ff4e,#a1ff56,#90ff67,#7fff78,#6dff89,#61ff95,#5dff9a,#61ff95,#6dff89,#7fff78,#90ff67,#a1ff56,#a9ff4e,#a6ff50,#97ff60,#7aff7d,#4fffa8,#12fce5,#009cff,#0036ff,#0000f8)"></i><i style="background:linear-gradient(90deg,#0000ff,#003eff,#00a5ff,#16ffe1,#4effa8,#76ff80,#90ff66,#9dff5a,#9dff5a,#93ff64,#7fff77,#6cff8a,#5aff9d,#4dffaa,#48ffae,#4dffaa,#5aff9d,#6cff8a,#7fff77,#93ff64,#9dff5a,#9dff5a,#90ff66,#76ff80,#4effa8,#16ffe1,#00a5ff,#003eff,#0000ff)"></i><i style="background:linear-gradient(90deg,#0000ff,#0048ff,#00aeff,#1affdd,#4effa8,#72ff84,#89ff6e,#92ff65,#8fff68,#83ff74,#6dff8a,#58ff9f,#45ffb2,#37ffc0,#32ffc5,#37ffc0,#45ffb2,#58ff9f,#6dff8a,#83ff74,#8fff68,#92ff65,#89ff6e,#72ff84,#4effa8,#1affdd,#00aeff,#0048ff,#0000ff)"></i><i style="background:linear-gradient(90deg,#0000ff,#0054ff,#00b9ff,#1fffd8,#4effa9,#6eff89,#81ff76,#86ff71,#80ff77,#71ff86,#59ff9e,#42ffb4,#2effc9,#20ffd7,#1affdd,#20ffd7,#2effc9,#42ffb4,#59ff9e,#71ff86,#80ff77,#86ff71,#81ff76,#6eff89,#4effa9,#1fffd8,#00b9ff,#0054ff,#0000ff)"></i><i style="background:linear-gradient(90deg,#0009ff,#0060ff,#00c5ff,#24ffd3,#4effa9,#6aff8d,#78ff7f,#79ff7e,#6fff88,#5dff9a,#44ffb3,#2bffcb,#17ffe0,#08efef,#02e8f5,#08efef,#17ffe0,#2bffcb,#44ffb3,#5dff9a,#6fff88,#79ff7e,#78ff7f,#6aff8d,#4effa9,#24ffd3,#00c5ff,#0060ff,#0009ff)"></i><i style="background:linear-gradient(90deg,#0011ff,#006cff,#00cfff,#28ffcf,#4effa9,#65ff92,#6eff88,#6bff8c,#5eff99,#49ffae,#2effc9,#14ffe2,#00e5f8,#00d2ff,#00c9ff,#00d2ff,#00e5f8,#14ffe2,#2effc9,#49ffae,#5eff99,#6bff8c,#6eff88,#65ff92,#4effa9,#28ffcf,#00cfff,#006cff,#0011ff)"></i><i style="background:linear-gradient(90deg,#0019ff,#0076ff,#00d8ff,#2cffcb,#4effa9,#60ff97,#65ff92,#5dff99,#4cffab,#35ffc2,#19ffde,#00e3f9,#00c8ff,#00b6ff,#00adff,#00b6ff,#00c8ff,#00e3f9,#19ffde,#35ffc2,#4cffab,#5dff99,#65ff92,#60ff97,#4effa9,#2cffcb,#00d8ff,#0076ff,#0019ff)"></i><i style="background:linear-gradient(90deg,#001fff,#007eff,#00defd,#2effc9,#4cffaa,#5aff9d,#5bff9c,#50ffa7,#3cffbb,#21ffd5,#04ebf3,#00c8ff,#00aeff,#009bff,#0092ff,#009bff,#00aeff,#00c8ff,#04ebf3,#21ffd5,#3cffbb,#50ffa7,#5bff9c,#5aff9d,#4cffaa,#2effc9,#00defd,#007eff,#001fff)"></i><i style="background:linear-gradient(90deg,#0023ff,#0084ff,#00e2fa,#2effc9,#4affac,#54ffa3,#51ffa5,#43ffb4,#2cffcb,#0ff8e8,#00d2ff,#00aeff,#0094ff,#0082ff,#0079ff,#0082ff,#0094ff,#00aeff,#00d2ff,#0ff8e8,#2cffcb,#43ffb4,#51ffa5,#54ffa3,#4affac,#2effc9,#00e2fa,#0084ff,#0023ff)"></i><i style="background:linear-gradient(90deg,#0026ff,#0088ff,#00e4f8,#2dffc9,#47ffb0,#4dffa9,#47ffaf,#36ffc1,#1cffda,#00e3f9,#00baff,#0095ff,#007cff,#006aff,#0062ff,#006aff,#007cff,#0095ff,#00baff,#00e3f9,#1cffda,#36ffc1,#47ffaf,#4dffa9,#47ffb0,#2dffc9,#00e4f8,#0088ff,#0026ff)"></i><i style="background:linear-gradient(90deg,#0029ff,#008cff,#01e6f6,#2cffcb,#42ffb4,#46ffb1,#3dffb9,#29ffce,#0ef6e9,#00cdff,#00a2ff,#007dff,#0064ff,#0053ff,#004bff,#0053ff,#0064ff,#007dff,#00a2ff,#00cdff,#0ef6e9,#29ffce,#3dffb9,#46ffb1,#42ffb4,#2cffcb,#01e6f6,#008cff,#0029ff)"></i><i style="background:linear-gradient(90deg,#002cff,#0090ff,#02e8f5,#2affcd,#3dffba,#3effb9,#33ffc4,#1cffdb,#00e4f8,#00b8ff,#008bff,#0065ff,#004dff,#003dff,#0035ff,#003dff,#004dff,#0065ff,#008bff,#00b8ff,#00e4f8,#1cffdb,#33ffc4,#3effb9,#3dffba,#2affcd,#02e8f5,#0090ff,#002cff)"></i><i style="background:linear-gradient(90deg,#002eff,#0092ff,#03e9f4,#27ffd0,#36ffc0,#36ffc1,#28ffce,#0ff8e8,#00d2ff,#00a4ff,#0075ff,#004fff,#0038ff,#0029ff,#0022ff,#0029ff,#0038ff,#004fff,#0075ff,#00a4ff,#00d2ff,#0ff8e8,#28ffce,#36ffc1,#36ffc0,#27ffd0,#03e9f4,#0092ff,#002eff)"></i><i style="background:linear-gradient(90deg,#002fff,#0094ff,#03e9f4,#25ffd2,#30ffc7,#2dffca,#1effd9,#02e9f4,#00c0ff,#0091ff,#0061ff,#003bff,#0025ff,#0017ff,#0011ff,#0017ff,#0025ff,#003bff,#0061ff,#0091ff,#00c0ff,#02e9f4,#1effd9,#2dffca,#30ffc7,#25ffd2,#03e9f4,#0094ff,#002fff)"></i><i style="background:linear-gradient(90deg,#0030ff,#0095ff,#03e9f4,#22ffd5,#2affcc,#25ffd2,#13fde4,#00d9ff,#00afff,#007eff,#004eff,#002aff,#0015ff,#0009ff,#0004ff,#0009ff,#0015ff,#002aff,#004eff,#007eff,#00afff,#00d9ff,#13fde4,#25ffd2,#2affcc,#22ffd5,#03e9f4,#0095ff,#0030ff)"></i><i style="background:linear-gradient(90deg,#002fff,#0095ff,#02e8f5,#1fffd8,#25ffd2,#1effd9,#09f0ee,#00caff,#009dff,#006dff,#003eff,#001bff,#0008ff,#0000ff,#0000ff,#0000ff,#0008ff,#001bff,#003eff,#006dff,#009dff,#00caff,#09f0ee,#1effd9,#25ffd2,#1fffd8,#02e8f5,#0095ff,#002fff)"></i><i style="background:linear-gradient(90deg,#002dff,#0092ff,#00e5f7,#1cffdb,#21ffd6,#17ffe0,#00e4f8,#00bbff,#008cff,#005cff,#0030ff,#000dff,#0000ff,#0000ff,#0000ff,#0000ff,#0000ff,#000dff,#0030ff,#005cff,#008cff,#00bbff,#00e4f8,#17ffe0,#21ffd6,#1cffdb,#00e5f7,#0092ff,#002dff)"></i><i style="background:linear-gradient(90deg,#002aff,#008dff,#00e0fb,#17ffe0,#1bffdc,#0ff8e8,#00d7ff,#00acff,#007bff,#004cff,#0023ff,#0002ff,#0000ff,#0000fb,#0000fa,#0000fb,#0000ff,#0002ff,#0023ff,#004cff,#007bff,#00acff,#00d7ff,#0ff8e8,#1bffdc,#17ffe0,#00e0fb,#008dff,#002aff)"></i><i style="background:linear-gradient(90deg,#0025ff,#0086ff,#00d7ff,#0ff8e8,#13fde4,#04ebf3,#00c6ff,#009aff,#0069ff,#003dff,#0018ff,#0000ff,#0000fc,#0000f7,#0000f6,#0000f7,#0000fc,#0000ff,#0018ff,#003dff,#0069ff,#009aff,#00c6ff,#04ebf3,#13fde4,#0ff8e8,#00d7ff,#0086ff,#0025ff)"></i><i style="background:linear-gradient(90deg,#001dff,#0078ff,#00c5ff,#00e6f7,#03e9f4,#00d5ff,#00aeff,#0082ff,#0055ff,#002eff,#0010ff,#0000ff,#0000fb,#0000f7,#0000f7,#0000f7,#0000fb,#0000ff,#0010ff,#002eff,#0055ff,#0082ff,#00aeff,#00d5ff,#03e9f4,#00e6f7,#00c5ff,#0078ff,#001dff)"></i><i style="background:linear-gradient(90deg,#0012ff,#0063ff,#00a8ff,#00c5ff,#00c7ff,#00b3ff,#008eff,#0065ff,#003eff,#0020ff,#0009ff,#0000ff,#0000fe,#0000fc,#0000fc,#0000fc,#0000fe,#0000ff,#0009ff,#0020ff,#003eff,#0065ff,#008eff,#00b3ff,#00c7ff,#00c5ff,#00a8ff,#0063ff,#0012ff)"></i><i style="background:linear-gradient(90deg,#0005ff,#0048ff,#0084ff,#009cff,#009dff,#008bff,#0069ff,#0045ff,#0028ff,#0012ff,#0003ff,#0000ff,#0000ff,#0000ff,#0000ff,#0000ff,#0000ff,#0000ff,#0003ff,#0012ff,#0028ff,#0045ff,#0069ff,#008bff,#009dff,#009cff,#0084ff,#0048ff,#0005ff)"></i><i style="background:linear-gradient(90deg,#0000ff,#002fff,#0061ff,#0075ff,#0076ff,#0066ff,#0048ff,#002bff,#0015ff,#0006ff,#0000ff,#0000ff,#0000ff,#0000ff,#0000ff,#0000ff,#0000ff,#0000ff,#0000ff,#0006ff,#0015ff,#002bff,#0048ff,#0066ff,#0076ff,#0075ff,#0061ff,#002fff,#0000ff)"></i><i style="background:linear-gradient(90deg,#0000fa,#001aff,#0045ff,#0056ff,#0057ff,#0049ff,#0030ff,#0017ff,#0007ff,#0000ff,#0000ff,#0000ff,#0000ff,#0000ff,#0000ff,#0000ff,#0000ff,#0000ff,#0000ff,#0000ff,#0007ff,#0017ff,#0030ff,#0049ff,#0057ff,#0056ff,#0045ff,#001aff,#0000fa)"></i><i style="background:linear-gradient(90deg,#0000ef,#000aff,#002fff,#003fff,#003fff,#0034ff,#001eff,#000aff,#0000ff,#0000ff,#0000ff,#0000ff,#0000ff,#0000ff,#0000ff,#0000ff,#0000ff,#0000ff,#0000ff,#0000ff,#0000ff,#000aff,#001eff,#0034ff,#003fff,#003fff,#002fff,#000aff,#0000ef)"></i><i style="background:linear-gradient(90deg,#0000e6,#0000ff,#001dff,#002cff,#002cff,#0021ff,#0010ff,#0001ff,#0000ff,#0000ff,#0000ff,#0000ff,#0000ff,#0000ff,#0000ff,#0000ff,#0000ff,#0000ff,#0000ff,#0000ff,#0000ff,#0001ff,#0010ff,#0021ff,#002cff,#002cff,#001dff,#0000ff,#0000e6)"></i><i style="background:linear-gradient(90deg,#0000dd,#0000fe,#000dff,#001aff,#001bff,#0012ff,#0004ff,#0000ff,#0000ff,#0000fc,#0000fb,#0000fe,#0000ff,#0000ff,#0000ff,#0000ff,#0000ff,#0000fe,#0000fb,#0000fc,#0000ff,#0000ff,#0004ff,#0012ff,#001bff,#001aff,#000dff,#0000fe,#0000dd)"></i><i style="background:linear-gradient(90deg,#0000d4,#0000f1,#0000ff,#000bff,#000bff,#0003ff,#0000ff,#0000ff,#0000fa,#0000f7,#0000f7,#0000f9,#0000f9,#0000f9,#0000f9,#0000f9,#0000f9,#0000f9,#0000f7,#0000f7,#0000fa,#0000ff,#0000ff,#0003ff,#000bff,#000bff,#0000ff,#0000f1,#0000d4)"></i><i style="background:linear-gradient(90deg,#0000cc,#0000e5,#0000ff,#0000ff,#0000ff,#0000ff,#0000fb,#0000f6,#0000f3,#0000f1,#0000f1,#0000f2,#0000f2,#0000f2,#0000f2,#0000f2,#0000f2,#0000f2,#0000f1,#0000f1,#0000f3,#0000f6,#0000fb,#0000ff,#0000ff,#0000ff,#0000ff,#0000e5,#0000cc)"></i><i style="background:linear-gradient(90deg,#0000c4,#0000d9,#0000ef,#0000fb,#0000fb,#0000f5,#0000ef,#0000ed,#0000eb,#0000eb,#0000eb,#0000eb,#0000eb,#0000eb,#0000eb,#0000eb,#0000eb,#0000eb,#0000eb,#0000eb,#0000eb,#0000ed,#0000ef,#0000f5,#0000fb,#0000fb,#0000ef,#0000d9,#0000c4)"></i><i style="background:linear-gradient(90deg,#0000bd,#0000cd,#0000e0,#0000ea,#0000ea,#0000e5,#0000e1,#0000e1,#0000e2,#0000e2,#0000e3,#0000e3,#0000e3,#0000e3,#0000e3,#0000e3,#0000e3,#0000e3,#0000e3,#0000e2,#0000e2,#0000e1,#0000e1,#0000e5,#0000ea,#0000ea,#0000e0,#0000cd,#0000bd)"></i><i style="background:linear-gradient(90deg,#0000b5,#0000c2,#0000d2,#0000d9,#0000da,#0000d6,#0000d3,#0000d5,#0000d7,#0000d8,#0000d9,#0000d9,#0000d9,#0000d9,#0000d9,#0000d9,#0000d9,#0000d9,#0000d9,#0000d8,#0000d7,#0000d5,#0000d3,#0000d6,#0000da,#0000d9,#0000d2,#0000c2,#0000b5)"></i><i style="background:linear-gradient(90deg,#0000ae,#0000b8,#0000c3,#0000ca,#0000ca,#0000c7,#0000c6,#0000c8,#0000ca,#0000cc,#0000cd,#0000cd,#0000cd,#0000cd,#0000cd,#0000cd,#0000cd,#0000cd,#0000cd,#0000cc,#0000ca,#0000c8,#0000c6,#0000c7,#0000ca,#0000ca,#0000c3,#0000b8,#0000ae)"></i><i style="background:linear-gradient(90deg,#0000a7,#0000ae,#0000b6,#0000ba,#0000ba,#0000b8,#0000b8,#0000bb,#0000bd,#0000be,#0000bf,#0000bf,#0000bf,#0000bf,#0000bf,#0000bf,#0000bf,#0000bf,#0000bf,#0000be,#0000bd,#0000bb,#0000b8,#0000b8,#0000ba,#0000ba,#0000b6,#0000ae,#0000a7)"></i><i style="background:linear-gradient(90deg,#0000a1,#0000a5,#0000aa,#0000ac,#0000ad,#0000ab,#0000ac,#0000ad,#0000af,#0000b0,#0000b1,#0000b1,#0000b1,#0000b1,#0000b1,#0000b1,#0000b1,#0000b1,#0000b1,#0000b0,#0000af,#0000ad,#0000ac,#0000ab,#0000ad,#0000ac,#0000aa,#0000a5,#0000a1)"></i><i style="background:linear-gradient(90deg,#00009c,#00009e,#0000a1,#0000a2,#0000a3,#0000a2,#0000a2,#0000a3,#0000a4,#0000a5,#0000a5,#0000a5,#0000a5,#0000a5,#0000a5,#0000a5,#0000a5,#0000a5,#0000a5,#0000a5,#0000a4,#0000a3,#0000a2,#0000a2,#0000a3,#0000a2,#0000a1,#00009e,#00009c)"></i></div>
<div class="hm" style="left:773px;top:300px;width:54px;height:163px"><i style="background:linear-gradient(90deg,#00009a,#0000a2,#0000ac,#0000b5,#0000be,#0000c6,#0000cc,#0000d0,#0000d3,#0000d6,#0000d8,#0000da,#0000db,#0000dc,#0000dc,#0000dc,#0000db,#0000da,#0000d8,#0000d6,#0000d3,#0000d0,#0000cc,#0000c6,#0000be,#0000b5,#0000ac,#0000a2,#00009a)"></i><i style="background:linear-gradient(90deg,#00009a,#0000a2,#0000ac,#0000b5,#0000be,#0000c6,#0000cc,#0000d1,#0000d3,#0000d6,#0000d8,#0000da,#0000db,#0000dc,#0000dd,#0000dc,#0000db,#0000da,#0000d8,#0000d6,#0000d3,#0000d1,#0000cc,#0000c6,#0000be,#0000b5,#0000ac,#0000a2,#00009a)"></i><i style="background:linear-gradient(90deg,#00009a,#0000a2,#0000ac,#0000b5,#0000be,#0000c6,#0000cc,#0000d1,#0000d4,#0000d6,#0000d8,#0000da,#0000dc,#0000dd,#0000dd,#0000dd,#0000dc,#0000da,#0000d8,#0000d6,#0000d4,#0000d1,#0000cc,#0000c6,#0000be,#0000b5,#0000ac,#0000a2,#00009a)"></i><i style="background:linear-gradient(90deg,#00009a,#0000a2,#0000ac,#0000b6,#0000be,#0000c6,#0000cc,#0000d1,#0000d4,#0000d6,#0000d9,#0000db,#0000dc,#0000dd,#0000dd,#0000dd,#0000dc,#0000db,#0000d9,#0000d6,#0000d4,#0000d1,#0000cc,#0000c6,#0000be,#0000b6,#0000ac,#0000a2,#00009a)"></i><i style="background:linear-gradient(90deg,#00009a,#0000a2,#0000ac,#0000b6,#0000be,#0000c6,#0000cd,#0000d1,#0000d4,#0000d7,#0000d9,#0000db,#0000dd,#0000de,#0000de,#0000de,#0000dd,#0000db,#0000d9,#0000d7,#0000d4,#0000d1,#0000cd,#0000c6,#0000be,#0000b6,#0000ac,#0000a2,#00009a)"></i><i style="background:linear-gradient(90deg,#00009a,#0000a2,#0000ad,#0000b6,#0000bf,#0000c6,#0000cd,#0000d2,#0000d5,#0000d7,#0000da,#0000dc,#0000de,#0000df,#0000df,#0000df,#0000de,#0000dc,#0000da,#0000d7,#0000d5,#0000d2,#0000cd,#0000c6,#0000bf,#0000b6,#0000ad,#0000a2,#00009a)"></i><i style="background:linear-gradient(90deg,#00009a,#0000a2,#0000ad,#0000b6,#0000bf,#0000c7,#0000cd,#0000d2,#0000d5,#0000d8,#0000db,#0000dd,#0000de,#0000df,#0000e0,#0000df,#0000de,#0000dd,#0000db,#0000d8,#0000d5,#0000d2,#0000cd,#0000c7,#0000bf,#0000b6,#0000ad,#0000a2,#00009a)"></i><i style="background:linear-gradient(90deg,#00009a,#0000a2,#0000ad,#0000b6,#0000bf,#0000c7,#0000ce,#0000d2,#0000d6,#0000d9,#0000db,#0000de,#0000df,#0000e0,#0000e1,#0000e0,#0000df,#0000de,#0000db,#0000d9,#0000d6,#0000d2,#0000ce,#0000c7,#0000bf,#0000b6,#0000ad,#0000a2,#00009a)"></i><i style="background:linear-gradient(90deg,#00009a,#0000a2,#0000ad,#0000b7,#0000bf,#0000c8,#0000ce,#0000d3,#0000d6,#0000d9,#0000dc,#0000df,#0000e0,#0000e1,#0000e2,#0000e1,#0000e0,#0000df,#0000dc,#0000d9,#0000d6,#0000d3,#0000ce,#0000c8,#0000bf,#0000b7,#0000ad,#0000a2,#00009a)"></i><i style="background:linear-gradient(90deg,#00009a,#0000a3,#0000ad,#0000b7,#0000c0,#0000c8,#0000cf,#0000d4,#0000d7,#0000da,#0000dd,#0000e0,#0000e1,#0000e3,#0000e3,#0000e3,#0000e1,#0000e0,#0000dd,#0000da,#0000d7,#0000d4,#0000cf,#0000c8,#0000c0,#0000b7,#0000ad,#0000a3,#00009a)"></i><i style="background:linear-gradient(90deg,#00009a,#0000a3,#0000ae,#0000b7,#0000c0,#0000c8,#0000cf,#0000d4,#0000d8,#0000db,#0000de,#0000e1,#0000e3,#0000e4,#0000e4,#0000e4,#0000e3,#0000e1,#0000de,#0000db,#0000d8,#0000d4,#0000cf,#0000c8,#0000c0,#0000b7,#0000ae,#0000a3,#00009a)"></i><i style="background:linear-gradient(90deg,#00009a,#0000a3,#0000ae,#0000b8,#0000c1,#0000c9,#0000d0,#0000d5,#0000d9,#0000dc,#0000df,#0000e2,#0000e4,#0000e5,#0000e6,#0000e5,#0000e4,#0000e2,#0000df,#0000dc,#0000d9,#0000d5,#0000d0,#0000c9,#0000c1,#0000b8,#0000ae,#0000a3,#00009a)"></i><i style="background:linear-gradient(90deg,#00009a,#0000a3,#0000ae,#0000b8,#0000c1,#0000c9,#0000d1,#0000d6,#0000da,#0000dd,#0000e0,#0000e3,#0000e5,#0000e7,#0000e7,#0000e7,#0000e5,#0000e3,#0000e0,#0000dd,#0000da,#0000d6,#0000d1,#0000c9,#0000c1,#0000b8,#0000ae,#0000a3,#00009a)"></i><i style="background:linear-gradient(90deg,#00009a,#0000a3,#0000ae,#0000b8,#0000c2,#0000ca,#0000d1,#0000d6,#0000da,#0000de,#0000e1,#0000e4,#0000e7,#0000e8,#0000e9,#0000e8,#0000e7,#0000e4,#0000e1,#0000de,#0000da,#0000d6,#0000d1,#0000ca,#0000c2,#0000b8,#0000ae,#0000a3,#00009a)"></i><i style="background:linear-gradient(90deg,#00009a,#0000a3,#0000af,#0000b9,#0000c2,#0000cb,#0000d2,#0000d7,#0000db,#0000df,#0000e3,#0000e6,#0000e8,#0000ea,#0000ea,#0000ea,#0000e8,#0000e6,#0000e3,#0000df,#0000db,#0000d7,#0000d2,#0000cb,#0000c2,#0000b9,#0000af,#0000a3,#00009a)"></i><i style="background:linear-gradient(90deg,#00009a,#0000a3,#0000af,#0000b9,#0000c3,#0000cb,#0000d3,#0000d8,#0000dc,#0000e0,#0000e4,#0000e7,#0000ea,#0000eb,#0000ec,#0000eb,#0000ea,#0000e7,#0000e4,#0000e0,#0000dc,#0000d8,#0000d3,#0000cb,#0000c3,#0000b9,#0000af,#0000a3,#00009a)"></i><i style="background:linear-gradient(90deg,#00009a,#0000a4,#0000af,#0000ba,#0000c3,#0000cc,#0000d3,#0000d9,#0000dd,#0000e2,#0000e5,#0000e8,#0000eb,#0000ed,#0000ed,#0000ed,#0000eb,#0000e8,#0000e5,#0000e2,#0000dd,#0000d9,#0000d3,#0000cc,#0000c3,#0000ba,#0000af,#0000a4,#00009a)"></i><i style="background:linear-gradient(90deg,#00009a,#0000a4,#0000b0,#0000ba,#0000c4,#0000cd,#0000d4,#0000da,#0000de,#0000e3,#0000e7,#0000ea,#0000ed,#0000ee,#0000ef,#0000ee,#0000ed,#0000ea,#0000e7,#0000e3,#0000de,#0000da,#0000d4,#0000cd,#0000c4,#0000ba,#0000b0,#0000a4,#00009a)"></i><i style="background:linear-gradient(90deg,#00009a,#0000a4,#0000b0,#0000bb,#0000c4,#0000cd,#0000d5,#0000db,#0000df,#0000e4,#0000e8,#0000eb,#0000ee,#0000f0,#0000f1,#0000f0,#0000ee,#0000eb,#0000e8,#0000e4,#0000df,#0000db,#0000d5,#0000cd,#0000c4,#0000bb,#0000b0,#0000a4,#00009a)"></i><i style="background:linear-gradient(90deg,#00009a,#0000a4,#0000b0,#0000bb,#0000c5,#0000ce,#0000d6,#0000dc,#0000e1,#0000e5,#0000e9,#0000ed,#0000f0,#0000f2,#0000f2,#0000f2,#0000f0,#0000ed,#0000e9,#0000e5,#0000e1,#0000dc,#0000d6,#0000ce,#0000c5,#0000bb,#0000b0,#0000a4,#00009a)"></i><i style="background:linear-gradient(90deg,#00009a,#0000a4,#0000b1,#0000bc,#0000c6,#0000cf,#0000d6,#0000dd,#0000e2,#0000e6,#0000eb,#0000ee,#0000f1,#0000f3,#0000f4,#0000f3,#0000f1,#0000ee,#0000eb,#0000e6,#0000e2,#0000dd,#0000d6,#0000cf,#0000c6,#0000bc,#0000b1,#0000a4,#00009a)"></i><i style="background:linear-gradient(90deg,#00009b,#0000a5,#0000b1,#0000bc,#0000c6,#0000d0,#0000d7,#0000de,#0000e3,#0000e8,#0000ec,#0000f0,#0000f3,#0000f5,#0000f6,#0000f5,#0000f3,#0000f0,#0000ec,#0000e8,#0000e3,#0000de,#0000d7,#0000d0,#0000c6,#0000bc,#0000b1,#0000a5,#00009b)"></i><i style="background:linear-gradient(90deg,#00009b,#0000a5,#0000b2,#0000bd,#0000c7,#0000d1,#0000d9,#0000df,#0000e4,#0000e9,#0000ee,#0000f2,#0000f5,#0000f7,#0000f8,#0000f7,#0000f5,#0000f2,#0000ee,#0000e9,#0000e4,#0000df,#0000d9,#0000d1,#0000c7,#0000bd,#0000b2,#0000a5,#00009b)"></i><i style="background:linear-gradient(90deg,#00009b,#0000a5,#0000b2,#0000be,#0000c8,#0000d2,#0000da,#0000e0,#0000e6,#0000eb,#0000f0,#0000f4,#0000f7,#0000fa,#0000fb,#0000fa,#0000f7,#0000f4,#0000f0,#0000eb,#0000e6,#0000e0,#0000da,#0000d2,#0000c8,#0000be,#0000b2,#0000a5,#00009b)"></i><i style="background:linear-gradient(90deg,#00009b,#0000a5,#0000b3,#0000bf,#0000c9,#0000d3,#0000db,#0000e2,#0000e8,#0000ed,#0000f2,#0000f6,#0000fa,#0000fc,#0000fd,#0000fc,#0000fa,#0000f6,#0000f2,#0000ed,#0000e8,#0000e2,#0000db,#0000d3,#0000c9,#0000bf,#0000b3,#0000a5,#00009b)"></i><i style="background:linear-gradient(90deg,#00009b,#0000a6,#0000b4,#0000c0,#0000cb,#0000d4,#0000dd,#0000e4,#0000ea,#0000ef,#0000f4,#0000f8,#0000fc,#0000ff,#0000ff,#0000ff,#0000fc,#0000f8,#0000f4,#0000ef,#0000ea,#0000e4,#0000dd,#0000d4,#0000cb,#0000c0,#0000b4,#0000a6,#00009b)"></i><i style="background:linear-gradient(90deg,#00009b,#0000a6,#0000b4,#0000c1,#0000cc,#0000d6,#0000df,#0000e6,#0000ec,#0000f1,#0000f6,#0000fb,#0000ff,#0000ff,#0000ff,#0000ff,#0000ff,#0000fb,#0000f6,#0000f1,#0000ec,#0000e6,#0000df,#0000d6,#0000cc,#0000c1,#0000b4,#0000a6,#00009b)"></i><i style="background:linear-gradient(90deg,#00009b,#0000a7,#0000b5,#0000c2,#0000cd,#0000d7,#0000e0,#0000e8,#0000ee,#0000f4,#0000f9,#0000fe,#0000ff,#0000ff,#0000ff,#0000ff,#0000ff,#0000fe,#0000f9,#0000f4,#0000ee,#0000e8,#0000e0,#0000d7,#0000cd,#0000c2,#0000b5,#0000a7,#00009b)"></i><i style="background:linear-gradient(90deg,#00009b,#0000a7,#0000b6,#0000c3,#0000cf,#0000d9,#0000e2,#0000ea,#0000f0,#0000f6,#0000fb,#0000ff,#0000ff,#0000ff,#0000ff,#0000ff,#0000ff,#0000ff,#0000fb,#0000f6,#0000f0,#0000ea,#0000e2,#0000d9,#0000cf,#0000c3,#0000b6,#0000a7,#00009b)"></i><i style="background:linear-gradient(90deg,#00009b,#0000a7,#0000b7,#0000c4,#0000d0,#0000db,#0000e4,#0000ec,#0000f3,#0000f9,#0000fe,#0000ff,#0000ff,#0000ff,#0000ff,#0000ff,#0000ff,#0000ff,#0000fe,#0000f9,#0000f3,#0000ec,#0000e4,#0000db,#0000d0,#0000c4,#0000b7,#0000a7,#00009b)"></i><i style="background:linear-gradient(90deg,#00009b,#0000a8,#0000b8,#0000c6,#0000d2,#0000dd,#0000e6,#0000ee,#0000f5,#0000fb,#0000ff,#0000ff,#0000ff,#0000ff,#0000ff,#0000ff,#0000ff,#0000ff,#0000ff,#0000fb,#0000f5,#0000ee,#0000e6,#0000dd,#0000d2,#0000c6,#0000b8,#0000a8,#00009b)"></i><i style="background:linear-gradient(90deg,#00009c,#0000a8,#0000b8,#0000c7,#0000d4,#0000df,#0000e8,#0000f1,#0000f8,#0000fe,#0000ff,#0000ff,#0000ff,#0001ff,#0003ff,#0001ff,#0000ff,#0000ff,#0000ff,#0000fe,#0000f8,#0000f1,#0000e8,#0000df,#0000d4,#0000c7,#0000b8,#0000a8,#00009c)"></i><i style="background:linear-gradient(90deg,#00009c,#0000a9,#0000b9,#0000c8,#0000d5,#0000e1,#0000eb,#0000f3,#0000fb,#0000ff,#0000ff,#0000ff,#0001ff,#0004ff,#0006ff,#0004ff,#0001ff,#0000ff,#0000ff,#0000ff,#0000fb,#0000f3,#0000eb,#0000e1,#0000d5,#0000c8,#0000b9,#0000a9,#00009c)"></i><i style="background:linear-gradient(90deg,#00009c,#0000a9,#0000ba,#0000ca,#0000d7,#0000e3,#0000ed,#0000f6,#0000fd,#0000ff,#0000ff,#0000ff,#0004ff,#0007ff,#0009ff,#0007ff,#0004ff,#0000ff,#0000ff,#0000ff,#0000fd,#0000f6,#0000ed,#0000e3,#0000d7,#0000ca,#0000ba,#0000a9,#00009c)"></i><i style="background:linear-gradient(90deg,#00009c,#0000aa,#0000bb,#0000cb,#0000d9,#0000e4,#0000ef,#0000f8,#0000ff,#0000ff,#0000ff,#0003ff,#0007ff,#000bff,#000dff,#000bff,#0007ff,#0003ff,#0000ff,#0000ff,#0000ff,#0000f8,#0000ef,#0000e4,#0000d9,#0000cb,#0000bb,#0000aa,#00009c)"></i><i style="background:linear-gradient(90deg,#00009c,#0000aa,#0000bc,#0000cc,#0000da,#0000e6,#0000f1,#0000fb,#0000ff,#0000ff,#0001ff,#0006ff,#000aff,#000eff,#0010ff,#000eff,#000aff,#0006ff,#0001ff,#0000ff,#0000ff,#0000fb,#0000f1,#0000e6,#0000da,#0000cc,#0000bc,#0000aa,#00009c)"></i><i style="background:linear-gradient(90deg,#00009c,#0000ab,#0000bd,#0000ce,#0000dc,#0000e9,#0000f4,#0000fe,#0000ff,#0000ff,#0004ff,#0009ff,#000eff,#0012ff,#0014ff,#0012ff,#000eff,#0009ff,#0004ff,#0000ff,#0000ff,#0000fe,#0000f4,#0000e9,#0000dc,#0000ce,#0000bd,#0000ab,#00009c)"></i><i style="background:linear-gradient(90deg,#00009c,#0000ab,#0000be,#0000cf,#0000de,#0000eb,#0000f6,#0000ff,#0000ff,#0001ff,#0007ff,#000dff,#0011ff,#0015ff,#0017ff,#0015ff,#0011ff,#000dff,#0007ff,#0001ff,#0000ff,#0000ff,#0000f6,#0000eb,#0000de,#0000cf,#0000be,#0000ab,#00009c)"></i><i style="background:linear-gradient(90deg,#00009c,#0000ac,#0000bf,#0000d0,#0000df,#0000ed,#0000f9,#0000ff,#0000ff,#0004ff,#000bff,#0010ff,#0015ff,#0019ff,#001bff,#0019ff,#0015ff,#0010ff,#000bff,#0004ff,#0000ff,#0000ff,#0000f9,#0000ed,#0000df,#0000d0,#0000bf,#0000ac,#00009c)"></i><i style="background:linear-gradient(90deg,#00009d,#0000ac,#0000c0,#0000d2,#0000e1,#0000ef,#0000fc,#0000ff,#0000ff,#0008ff,#000fff,#0014ff,#0019ff,#001dff,#001fff,#001dff,#0019ff,#0014ff,#000fff,#0008ff,#0000ff,#0000ff,#0000fc,#0000ef,#0000e1,#0000d2,#0000c0,#0000ac,#00009d)"></i><i style="background:linear-gradient(90deg,#00009d,#0000ad,#0000c1,#0000d3,#0000e3,#0000f1,#0000fe,#0000ff,#0004ff,#000cff,#0013ff,#0018ff,#001eff,#0022ff,#0024ff,#0022ff,#001eff,#0018ff,#0013ff,#000cff,#0004ff,#0000ff,#0000fe,#0000f1,#0000e3,#0000d3,#0000c1,#0000ad,#00009d)"></i><i style="background:linear-gradient(90deg,#00009d,#0000ad,#0000c2,#0000d4,#0000e5,#0000f4,#0000ff,#0000ff,#0007ff,#0010ff,#0017ff,#001dff,#0022ff,#0026ff,#0028ff,#0026ff,#0022ff,#001dff,#0017ff,#0010ff,#0007ff,#0000ff,#0000ff,#0000f4,#0000e5,#0000d4,#0000c2,#0000ad,#00009d)"></i><i style="background:linear-gradient(90deg,#00009d,#0000ae,#0000c3,#0000d6,#0000e7,#0000f6,#0000ff,#0001ff,#000bff,#0014ff,#001bff,#0021ff,#0027ff,#002bff,#002dff,#002bff,#0027ff,#0021ff,#001bff,#0014ff,#000bff,#0001ff,#0000ff,#0000f6,#0000e7,#0000d6,#0000c3,#0000ae,#00009d)"></i><i style="background:linear-gradient(90deg,#00009d,#0000ae,#0000c4,#0000d7,#0000e9,#0000f9,#0000ff,#0004ff,#000fff,#0018ff,#0020ff,#0026ff,#002bff,#002fff,#0031ff,#002fff,#002bff,#0026ff,#0020ff,#0018ff,#000fff,#0004ff,#0000ff,#0000f9,#0000e9,#0000d7,#0000c4,#0000ae,#00009d)"></i><i style="background:linear-gradient(90deg,#00009d,#0000af,#0000c5,#0000d9,#0000eb,#0000fc,#0000ff,#0008ff,#0013ff,#001dff,#0025ff,#002bff,#0030ff,#0034ff,#0036ff,#0034ff,#0030ff,#002bff,#0025ff,#001dff,#0013ff,#0008ff,#0000ff,#0000fc,#0000eb,#0000d9,#0000c5,#0000af,#00009d)"></i><i style="background:linear-gradient(90deg,#00009d,#0000af,#0000c6,#0000db,#0000ee,#0000ff,#0000ff,#000bff,#0018ff,#0022ff,#0029ff,#0030ff,#0035ff,#003aff,#003bff,#003aff,#0035ff,#0030ff,#0029ff,#0022ff,#0018ff,#000bff,#0000ff,#0000ff,#0000ee,#0000db,#0000c6,#0000af,#00009d)"></i><i style="background:linear-gradient(90deg,#00009e,#0000b0,#0000c7,#0000dc,#0000f0,#0000ff,#0002ff,#000fff,#001cff,#0027ff,#002fff,#0035ff,#003bff,#003fff,#0041ff,#003fff,#003bff,#0035ff,#002fff,#0027ff,#001cff,#000fff,#0002ff,#0000ff,#0000f0,#0000dc,#0000c7,#0000b0,#00009e)"></i><i style="background:linear-gradient(90deg,#00009e,#0000b0,#0000c8,#0000de,#0000f2,#0000ff,#0005ff,#0013ff,#0021ff,#002cff,#0034ff,#003bff,#0040ff,#0044ff,#0046ff,#0044ff,#0040ff,#003bff,#0034ff,#002cff,#0021ff,#0013ff,#0005ff,#0000ff,#0000f2,#0000de,#0000c8,#0000b0,#00009e)"></i><i style="background:linear-gradient(90deg,#00009e,#0000b1,#0000c9,#0000e0,#0000f5,#0000ff,#0009ff,#0017ff,#0025ff,#0031ff,#0039ff,#0040ff,#0046ff,#004aff,#004cff,#004aff,#0046ff,#0040ff,#0039ff,#0031ff,#0025ff,#0017ff,#0009ff,#0000ff,#0000f5,#0000e0,#0000c9,#0000b1,#00009e)"></i><i style="background:linear-gradient(90deg,#00009e,#0000b2,#0000cb,#0000e2,#0000f8,#0000ff,#000cff,#001cff,#002aff,#0036ff,#003fff,#0046ff,#004cff,#0050ff,#0051ff,#0050ff,#004cff,#0046ff,#003fff,#0036ff,#002aff,#001cff,#000cff,#0000ff,#0000f8,#0000e2,#0000cb,#0000b2,#00009e)"></i><i style="background:linear-gradient(90deg,#00009e,#0000b2,#0000cc,#0000e4,#0000fb,#0000ff,#0010ff,#0020ff,#002fff,#003cff,#0045ff,#004cff,#0052ff,#0056ff,#0057ff,#0056ff,#0052ff,#004cff,#0045ff,#003cff,#002fff,#0020ff,#0010ff,#0000ff,#0000fb,#0000e4,#0000cc,#0000b2,#00009e)"></i><i style="background:linear-gradient(90deg,#00009e,#0000b3,#0000cd,#0000e6,#0000fe,#0003ff,#0014ff,#0025ff,#0035ff,#0042ff,#004bff,#0052ff,#0058ff,#005cff,#005dff,#005cff,#0058ff,#0052ff,#004bff,#0042ff,#0035ff,#0025ff,#0014ff,#0003ff,#0000fe,#0000e6,#0000cd,#0000b3,#00009e)"></i><i style="background:linear-gradient(90deg,#00009f,#0000b4,#0000ce,#0000e8,#0000ff,#0006ff,#0019ff,#002aff,#003aff,#0048ff,#0051ff,#0058ff,#005eff,#0062ff,#0064ff,#0062ff,#005eff,#0058ff,#0051ff,#0048ff,#003aff,#002aff,#0019ff,#0006ff,#0000ff,#0000e8,#0000ce,#0000b4,#00009f)"></i><i style="background:linear-gradient(90deg,#00009f,#0000b4,#0000d0,#0000eb,#0000ff,#000bff,#001eff,#0030ff,#0041ff,#004eff,#0058ff,#005fff,#0065ff,#0069ff,#006bff,#0069ff,#0065ff,#005fff,#0058ff,#004eff,#0041ff,#0030ff,#001eff,#000bff,#0000ff,#0000eb,#0000d0,#0000b4,#00009f)"></i><i style="background:linear-gradient(90deg,#00009f,#0000b5,#0000d1,#0000ed,#0000ff,#000fff,#0023ff,#0036ff,#0047ff,#0055ff,#005fff,#0067ff,#006dff,#0071ff,#0073ff,#0071ff,#006dff,#0067ff,#005fff,#0055ff,#0047ff,#0036ff,#0023ff,#000fff,#0000ff,#0000ed,#0000d1,#0000b5,#00009f)"></i><i style="background:linear-gradient(90deg,#00009f,#0000b5,#0000d2,#0000f0,#0000ff,#0014ff,#0029ff,#003dff,#004fff,#005dff,#0067ff,#006fff,#0075ff,#0079ff,#007bff,#0079ff,#0075ff,#006fff,#0067ff,#005dff,#004fff,#003dff,#0029ff,#0014ff,#0000ff,#0000f0,#0000d2,#0000b5,#00009f)"></i><i style="background:linear-gradient(90deg,#0000a0,#0000b6,#0000d4,#0000f2,#0001ff,#001aff,#0030ff,#0044ff,#0056ff,#0065ff,#0070ff,#0078ff,#007eff,#0082ff,#0083ff,#0082ff,#007eff,#0078ff,#0070ff,#0065ff,#0056ff,#0044ff,#0030ff,#001aff,#0001ff,#0000f2,#0000d4,#0000b6,#0000a0)"></i><i style="background:linear-gradient(90deg,#0000a0,#0000b7,#0000d5,#0000f5,#0005ff,#0020ff,#0036ff,#004cff,#005fff,#006eff,#0079ff,#0080ff,#0087ff,#008bff,#008cff,#008bff,#0087ff,#0080ff,#0079ff,#006eff,#005fff,#004cff,#0036ff,#0020ff,#0005ff,#0000f5,#0000d5,#0000b7,#0000a0)"></i><i style="background:linear-gradient(90deg,#0000a0,#0000b7,#0000d7,#0000f8,#000aff,#0026ff,#003eff,#0054ff,#0067ff,#0077ff,#0082ff,#008aff,#0090ff,#0094ff,#0095ff,#0094ff,#0090ff,#008aff,#0082ff,#0077ff,#0067ff,#0054ff,#003eff,#0026ff,#000aff,#0000f8,#0000d7,#0000b7,#0000a0)"></i><i style="background:linear-gradient(90deg,#0000a1,#0000b8,#0000d8,#0000fc,#000fff,#002cff,#0045ff,#005cff,#0070ff,#0080ff,#008bff,#0093ff,#0099ff,#009dff,#009fff,#009dff,#0099ff,#0093ff,#008bff,#0080ff,#0070ff,#005cff,#0045ff,#002cff,#000fff,#0000fc,#0000d8,#0000b8,#0000a1)"></i><i style="background:linear-gradient(90deg,#0000a1,#0000b9,#0000da,#0000ff,#0014ff,#0033ff,#004dff,#0065ff,#0079ff,#0089ff,#0094ff,#009dff,#00a3ff,#00a7ff,#00a8ff,#00a7ff,#00a3ff,#009dff,#0094ff,#0089ff,#0079ff,#0065ff,#004dff,#0033ff,#0014ff,#0000ff,#0000da,#0000b9,#0000a1)"></i><i style="background:linear-gradient(90deg,#0000a2,#0000ba,#0000db,#0000ff,#0019ff,#003aff,#0055ff,#006dff,#0082ff,#0092ff,#009eff,#00a6ff,#00acff,#00b0ff,#00b2ff,#00b0ff,#00acff,#00a6ff,#009eff,#0092ff,#0082ff,#006dff,#0055ff,#003aff,#0019ff,#0000ff,#0000db,#0000ba,#0000a2)"></i><i style="background:linear-gradient(90deg,#0000a3,#0000ba,#0000dd,#0000ff,#001eff,#0041ff,#005dff,#0076ff,#008bff,#009bff,#00a7ff,#00b0ff,#00b6ff,#00baff,#00bbff,#00baff,#00b6ff,#00b0ff,#00a7ff,#009bff,#008bff,#0076ff,#005dff,#0041ff,#001eff,#0000ff,#0000dd,#0000ba,#0000a3)"></i><i style="background:linear-gradient(90deg,#0000a3,#0000bb,#0000df,#0000ff,#0024ff,#0048ff,#0065ff,#007fff,#0094ff,#00a5ff,#00b1ff,#00b9ff,#00bfff,#00c3ff,#00c5ff,#00c3ff,#00bfff,#00b9ff,#00b1ff,#00a5ff,#0094ff,#007fff,#0065ff,#0048ff,#0024ff,#0000ff,#0000df,#0000bb,#0000a3)"></i><i style="background:linear-gradient(90deg,#0000a4,#0000bd,#0000e2,#0000ff,#0029ff,#004eff,#006dff,#0088ff,#009dff,#00aeff,#00baff,#00c2ff,#00c8ff,#00ccff,#00ceff,#00ccff,#00c8ff,#00c2ff,#00baff,#00aeff,#009dff,#0088ff,#006dff,#004eff,#0029ff,#0000ff,#0000e2,#0000bd,#0000a4)"></i><i style="background:linear-gradient(90deg,#0000a5,#0000be,#0000e4,#0002ff,#002eff,#0055ff,#0075ff,#0090ff,#00a6ff,#00b6ff,#00c2ff,#00cbff,#00d1ff,#00d5ff,#00d6ff,#00d5ff,#00d1ff,#00cbff,#00c2ff,#00b6ff,#00a6ff,#0090ff,#0075ff,#0055ff,#002eff,#0002ff,#0000e4,#0000be,#0000a5)"></i><i style="background:linear-gradient(90deg,#0000a6,#0000bf,#0000e7,#0006ff,#0034ff,#005cff,#007dff,#0099ff,#00afff,#00bfff,#00cbff,#00d3ff,#00d9ff,#00ddfd,#00dffc,#00ddfd,#00d9ff,#00d3ff,#00cbff,#00bfff,#00afff,#0099ff,#007dff,#005cff,#0034ff,#0006ff,#0000e7,#0000bf,#0000a6)"></i><i style="background:linear-gradient(90deg,#0000a8,#0000c2,#0000ea,#000aff,#003aff,#0063ff,#0085ff,#00a1ff,#00b7ff,#00c7ff,#00d3ff,#00dcff,#00e1fa,#00e5f7,#01e7f6,#00e5f7,#00e1fa,#00dcff,#00d3ff,#00c7ff,#00b7ff,#00a1ff,#0085ff,#0063ff,#003aff,#000aff,#0000ea,#0000c2,#0000a8)"></i><i style="background:linear-gradient(90deg,#0000aa,#0000c4,#0000ed,#000eff,#003fff,#006aff,#008dff,#00aaff,#00c0ff,#00cfff,#00dbff,#00e4f8,#03e9f4,#06edf0,#08efef,#06edf0,#03e9f4,#00e4f8,#00dbff,#00cfff,#00c0ff,#00aaff,#008dff,#006aff,#003fff,#000eff,#0000ed,#0000c4,#0000aa)"></i><i style="background:linear-gradient(90deg,#0000ae,#0000c8,#0000f2,#0013ff,#0045ff,#0071ff,#0095ff,#00b2ff,#00c8ff,#00d8ff,#00e3f9,#05ecf2,#09f1ed,#0df5ea,#0ef7e9,#0df5ea,#09f1ed,#05ecf2,#00e3f9,#00d8ff,#00c8ff,#00b2ff,#0095ff,#0071ff,#0045ff,#0013ff,#0000f2,#0000c8,#0000ae)"></i><i style="background:linear-gradient(90deg,#0000b2,#0000cc,#0000f6,#0018ff,#004bff,#0078ff,#009dff,#00bbff,#00d1ff,#00e0fb,#05ebf2,#0bf3ec,#10f9e7,#13fde4,#14ffe2,#13fde4,#10f9e7,#0bf3ec,#05ebf2,#00e0fb,#00d1ff,#00bbff,#009dff,#0078ff,#004bff,#0018ff,#0000f6,#0000cc,#0000b2)"></i><i style="background:linear-gradient(90deg,#0000b6,#0000d0,#0000fb,#001dff,#0051ff,#007fff,#00a5ff,#00c4ff,#00d9ff,#02e8f5,#0bf3ec,#11fbe5,#16ffe1,#19ffde,#1bffdc,#19ffde,#16ffe1,#11fbe5,#0bf3ec,#02e8f5,#00d9ff,#00c4ff,#00a5ff,#007fff,#0051ff,#001dff,#0000fb,#0000d0,#0000b6)"></i><i style="background:linear-gradient(90deg,#0000bb,#0000d5,#0000ff,#0022ff,#0057ff,#0086ff,#00adff,#00ccff,#00e2fa,#08f0ee,#11fbe6,#18ffdf,#1cffdb,#1fffd7,#21ffd6,#1fffd7,#1cffdb,#18ffdf,#11fbe6,#08f0ee,#00e2fa,#00ccff,#00adff,#0086ff,#0057ff,#0022ff,#0000ff,#0000d5,#0000bb)"></i><i style="background:linear-gradient(90deg,#0000c0,#0000db,#0000ff,#0028ff,#005eff,#008eff,#00b6ff,#00d5ff,#04eaf3,#0ff8e8,#18ffdf,#1effd9,#22ffd4,#26ffd1,#27ffd0,#26ffd1,#22ffd4,#1effd9,#18ffdf,#0ff8e8,#04eaf3,#00d5ff,#00b6ff,#008eff,#005eff,#0028ff,#0000ff,#0000db,#0000c0)"></i><i style="background:linear-gradient(90deg,#0000c6,#0000e1,#0000ff,#002fff,#0065ff,#0096ff,#00bfff,#00defc,#0bf3ec,#16ffe1,#1effd9,#24ffd3,#29ffce,#2cffcb,#2dffc9,#2cffcb,#29ffce,#24ffd3,#1effd9,#16ffe1,#0bf3ec,#00defc,#00bfff,#0096ff,#0065ff,#002fff,#0000ff,#0000e1,#0000c6)"></i><i style="background:linear-gradient(90deg,#0000cc,#0000e7,#0004ff,#0035ff,#006cff,#009eff,#00c8ff,#02e8f5,#12fce5,#1dffda,#25ffd2,#2bffcc,#2fffc8,#32ffc5,#34ffc3,#32ffc5,#2fffc8,#2bffcc,#25ffd2,#1dffda,#12fce5,#02e8f5,#00c8ff,#009eff,#006cff,#0035ff,#0004ff,#0000e7,#0000cc)"></i><i style="background:linear-gradient(90deg,#0000d2,#0000ed,#000aff,#003dff,#0074ff,#00a6ff,#00d1ff,#0af2ed,#1affdd,#24ffd3,#2bffcb,#31ffc6,#35ffc2,#39ffbe,#3affbd,#39ffbe,#35ffc2,#31ffc6,#2bffcb,#24ffd3,#1affdd,#0af2ed,#00d1ff,#00a6ff,#0074ff,#003dff,#000aff,#0000ed,#0000d2)"></i><i style="background:linear-gradient(90deg,#0000d8,#0000f4,#0011ff,#0044ff,#007cff,#00afff,#00dbff,#12fce5,#21ffd6,#2bffcc,#32ffc5,#38ffbf,#3cffbb,#3fffb8,#41ffb6,#3fffb8,#3cffbb,#38ffbf,#32ffc5,#2bffcc,#21ffd6,#12fce5,#00dbff,#00afff,#007cff,#0044ff,#0011ff,#0000f4,#0000d8)"></i><i style="background:linear-gradient(90deg,#0000de,#0000fb,#0018ff,#004cff,#0084ff,#00b9ff,#00e5f7,#1affdd,#29ffce,#32ffc4,#39ffbe,#3fffb8,#43ffb4,#46ffb1,#47ffb0,#46ffb1,#43ffb4,#3fffb8,#39ffbe,#32ffc4,#29ffce,#1affdd,#00e5f7,#00b9ff,#0084ff,#004cff,#0018ff,#0000fb,#0000de)"></i><i style="background:linear-gradient(90deg,#0000e3,#0000ff,#001fff,#0055ff,#008eff,#00c3ff,#08f0ee,#23ffd4,#31ffc6,#3affbd,#41ffb6,#46ffb1,#4affad,#4dffaa,#4effa9,#4dffaa,#4affad,#46ffb1,#41ffb6,#3affbd,#31ffc6,#23ffd4,#08f0ee,#00c3ff,#008eff,#0055ff,#001fff,#0000ff,#0000e3)"></i><i style="background:linear-gradient(90deg,#0000e9,#0000ff,#0028ff,#005eff,#0098ff,#00ceff,#12fbe5,#2cffcb,#3affbd,#42ffb5,#48ffaf,#4dffaa,#51ffa6,#54ffa3,#55ffa2,#54ffa3,#51ffa6,#4dffaa,#48ffaf,#42ffb5,#3affbd,#2cffcb,#12fbe5,#00ceff,#0098ff,#005eff,#0028ff,#0000ff,#0000e9)"></i><i style="background:linear-gradient(90deg,#0000ef,#0001ff,#0032ff,#006aff,#00a4ff,#00daff,#1bffdb,#35ffc2,#42ffb4,#4affad,#50ffa7,#55ffa2,#58ff9e,#5bff9c,#5dff9a,#5bff9c,#58ff9e,#55ffa2,#50ffa7,#4affad,#42ffb4,#35ffc2,#1bffdb,#00daff,#00a4ff,#006aff,#0032ff,#0001ff,#0000ef)"></i><i style="background:linear-gradient(90deg,#0000f6,#0009ff,#003dff,#0077ff,#00b1ff,#02e7f5,#26ffd1,#3fffb8,#4bffab,#53ffa4,#58ff9f,#5dff9a,#60ff97,#63ff94,#64ff92,#63ff94,#60ff97,#5dff9a,#58ff9f,#53ffa4,#4bffab,#3fffb8,#26ffd1,#02e7f5,#00b1ff,#0077ff,#003dff,#0009ff,#0000f6)"></i><i style="background:linear-gradient(90deg,#0000fd,#0012ff,#004aff,#0086ff,#00c0ff,#0df6e9,#31ffc6,#49ffae,#54ffa2,#5bff9c,#60ff97,#65ff92,#68ff8e,#6bff8c,#6dff8a,#6bff8c,#68ff8e,#65ff92,#60ff97,#5bff9c,#54ffa2,#49ffae,#31ffc6,#0df6e9,#00c0ff,#0086ff,#004aff,#0012ff,#0000fd)"></i><i style="background:linear-gradient(90deg,#0000ff,#001cff,#0059ff,#0096ff,#00d0ff,#1affdd,#3dffba,#54ffa3,#5eff99,#64ff93,#69ff8e,#6dff8a,#71ff86,#73ff83,#75ff82,#73ff83,#71ff86,#6dff8a,#69ff8e,#64ff93,#5eff99,#54ffa3,#3dffba,#1affdd,#00d0ff,#0096ff,#0059ff,#001cff,#0000ff)"></i><i style="background:linear-gradient(90deg,#0000ff,#0027ff,#0068ff,#00a8ff,#00e1fa,#27ffd0,#49ffad,#5fff98,#68ff8f,#6dff8a,#71ff85,#76ff81,#79ff7d,#7cff7b,#7dff79,#7cff7b,#79ff7d,#76ff81,#71ff85,#6dff8a,#68ff8f,#5fff98,#49ffad,#27ffd0,#00e1fa,#00a8ff,#0068ff,#0027ff,#0000ff)"></i><i style="background:linear-gradient(90deg,#0002ff,#0031ff,#0078ff,#00baff,#0bf3ec,#35ffc2,#56ffa1,#6aff8d,#72ff85,#76ff81,#7aff7d,#7fff78,#82ff75,#84ff72,#86ff71,#84ff72,#82ff75,#7fff78,#7aff7d,#76ff81,#72ff85,#6aff8d,#56ffa1,#35ffc2,#0bf3ec,#00baff,#0078ff,#0031ff,#0002ff)"></i><i style="background:linear-gradient(90deg,#0008ff,#003dff,#0089ff,#00cdff,#1affdd,#43ffb4,#63ff94,#75ff82,#7cff7b,#80ff77,#83ff74,#87ff6f,#8bff6c,#8dff6a,#8eff69,#8dff6a,#8bff6c,#87ff6f,#83ff74,#80ff77,#7cff7b,#75ff82,#63ff94,#43ffb4,#1affdd,#00cdff,#0089ff,#003dff,#0008ff)"></i><i style="background:linear-gradient(90deg,#000fff,#0048ff,#009aff,#00e0fb,#29ffce,#51ffa6,#70ff87,#81ff76,#86ff70,#89ff6d,#8cff6b,#90ff67,#93ff64,#95ff62,#96ff60,#95ff62,#93ff64,#90ff67,#8cff6b,#89ff6d,#86ff70,#81ff76,#70ff87,#51ffa6,#29ffce,#00e0fb,#009aff,#0048ff,#000fff)"></i><i style="background:linear-gradient(90deg,#0016ff,#0054ff,#00abff,#0bf3ec,#37ffbf,#5fff98,#7dff7a,#8dff6a,#91ff66,#93ff63,#96ff61,#99ff5e,#9bff5b,#9dff5a,#9eff58,#9dff5a,#9bff5b,#99ff5e,#96ff61,#93ff63,#91ff66,#8dff6a,#7dff7a,#5fff98,#37ffbf,#0bf3ec,#00abff,#0054ff,#0016ff)"></i><i style="background:linear-gradient(90deg,#001eff,#0060ff,#00bbff,#1affdd,#46ffb1,#6cff8a,#8aff6d,#99ff5e,#9cff5b,#9eff59,#9fff58,#a1ff55,#a3ff53,#a5ff52,#a6ff51,#a5ff52,#a3ff53,#a1ff55,#9fff58,#9eff59,#9cff5b,#99ff5e,#8aff6d,#6cff8a,#46ffb1,#1affdd,#00bbff,#0060ff,#001eff)"></i><i style="background:linear-gradient(90deg,#0025ff,#006bff,#00cbff,#28ffce,#54ffa3,#7aff7d,#96ff60,#a5ff52,#a8ff4f,#a8ff4f,#a8ff4e,#aaff4d,#abff4b,#acff4a,#adff4a,#acff4a,#abff4b,#aaff4d,#a8ff4e,#a8ff4f,#a8ff4f,#a5ff52,#96ff60,#7aff7d,#54ffa3,#28ffce,#00cbff,#006bff,#0025ff)"></i><i style="background:linear-gradient(90deg,#002cff,#0077ff,#00daff,#36ffc1,#61ff96,#86ff70,#a3ff54,#b1ff46,#b3ff43,#b3ff44,#b2ff45,#b2ff45,#b3ff44,#b3ff43,#b4ff43,#b3ff43,#b3ff44,#b2ff45,#b2ff45,#b3ff44,#b3ff43,#b1ff46,#a3ff54,#86ff70,#61ff96,#36ffc1,#00daff,#0077ff,#002cff)"></i><i style="background:linear-gradient(90deg,#0033ff,#0082ff,#03e9f4,#42ffb5,#6dff89,#93ff64,#afff48,#bdff3a,#bfff37,#bfff38,#bcff3b,#baff3d,#baff3d,#baff3d,#baff3d,#baff3d,#baff3d,#baff3d,#bcff3b,#bfff38,#bfff37,#bdff3a,#afff48,#93ff64,#6dff89,#42ffb5,#03e9f4,#0082ff,#0033ff)"></i><i style="background:linear-gradient(90deg,#003bff,#008dff,#0df6ea,#4dffaa,#79ff7e,#9eff59,#baff3c,#caff2d,#ccff2a,#cbff2c,#c6ff31,#c2ff35,#c0ff36,#c0ff37,#c0ff37,#c0ff37,#c0ff36,#c2ff35,#c6ff31,#cbff2c,#ccff2a,#caff2d,#baff3c,#9eff59,#79ff7e,#4dffaa,#0df6ea,#008dff,#003bff)"></i><i style="background:linear-gradient(90deg,#0042ff,#0098ff,#17ffe0,#57ffa0,#83ff73,#a8ff4e,#c6ff31,#d6ff20,#dbff1c,#d8ff1e,#d1ff26,#c9ff2d,#c7ff30,#c6ff31,#c5ff31,#c6ff31,#c7ff30,#c9ff2d,#d1ff26,#d8ff1e,#dbff1c,#d6ff20,#c6ff31,#a8ff4e,#83ff73,#57ffa0,#17ffe0,#0098ff,#0042ff)"></i><i style="background:linear-gradient(90deg,#004aff,#00a3ff,#20ffd6,#61ff96,#8dff6a,#b2ff44,#d1ff26,#e4ff13,#eaff0d,#e7ff10,#dcff1b,#d1ff26,#cdff2a,#ccff2b,#cbff2c,#ccff2b,#cdff2a,#d1ff26,#dcff1b,#e7ff10,#eaff0d,#e4ff13,#d1ff26,#b2ff44,#8dff6a,#61ff96,#20ffd6,#00a3ff,#004aff)"></i><i style="background:linear-gradient(90deg,#0051ff,#00adff,#2affcd,#6aff8d,#97ff60,#bcff3b,#dcff1b,#f2fc05,#faf200,#f6f601,#e8ff0f,#d9ff1e,#d3ff24,#d1ff25,#d0ff27,#d1ff25,#d3ff24,#d9ff1e,#e8ff0f,#f6f601,#faf200,#f2fc05,#dcff1b,#bcff3b,#97ff60,#6aff8d,#2affcd,#00adff,#0051ff)"></i><i style="background:linear-gradient(90deg,#005aff,#00b8ff,#33ffc4,#73ff84,#a0ff56,#c6ff31,#e7ff10,#ffec00,#ffdf00,#ffe400,#f3f903,#e0ff17,#d9ff1e,#d6ff20,#d4ff22,#d6ff20,#d9ff1e,#e0ff17,#f3f903,#ffe400,#ffdf00,#ffec00,#e7ff10,#c6ff31,#a0ff56,#73ff84,#33ffc4,#00b8ff,#005aff)"></i><i style="background:linear-gradient(90deg,#0062ff,#00c4ff,#3cffbb,#7cff7b,#aaff4d,#d0ff27,#f2fb05,#ffdc00,#ffce00,#ffd300,#ffec00,#e7ff10,#deff18,#dbff1c,#d9ff1e,#dbff1c,#deff18,#e7ff10,#ffec00,#ffd300,#ffce00,#ffdc00,#f2fb05,#d0ff27,#aaff4d,#7cff7b,#3cffbb,#00c4ff,#0062ff)"></i><i style="background:linear-gradient(90deg,#006bff,#00d0ff,#46ffb1,#85ff71,#b4ff43,#daff1d,#fdee00,#ffcd00,#ffbd00,#ffc400,#ffe000,#eeff09,#e3ff14,#dfff18,#dcff1b,#dfff18,#e3ff14,#eeff09,#ffe000,#ffc400,#ffbd00,#ffcd00,#fdee00,#daff1d,#b4ff43,#85ff71,#46ffb1,#00d0ff,#006bff)"></i><i style="background:linear-gradient(90deg,#0074ff,#00dcfe,#50ffa6,#90ff67,#bfff38,#e5ff12,#ffe100,#ffbe00,#ffae00,#ffb600,#ffd600,#f4f903,#e8ff0f,#e2ff14,#dfff18,#e2ff14,#e8ff0f,#f4f903,#ffd600,#ffb600,#ffae00,#ffbe00,#ffe100,#e5ff12,#bfff38,#90ff67,#50ffa6,#00dcfe,#0074ff)"></i><i style="background:linear-gradient(90deg,#007eff,#03e9f4,#5cff9b,#9bff5c,#caff2c,#f1fd06,#ffd300,#ffb000,#ffa100,#ffaa00,#ffcc00,#faf200,#ebff0b,#e5ff12,#e1ff15,#e5ff12,#ebff0b,#faf200,#ffcc00,#ffaa00,#ffa100,#ffb000,#ffd300,#f1fd06,#caff2c,#9bff5c,#5cff9b,#03e9f4,#007eff)"></i><i style="background:linear-gradient(90deg,#0089ff,#0ef7e8,#68ff8f,#a7ff50,#d7ff20,#fdef00,#ffc500,#ffa300,#ff9600,#ffa000,#ffc400,#ffeb00,#efff08,#e7ff10,#e4ff13,#e7ff10,#efff08,#ffeb00,#ffc400,#ffa000,#ff9600,#ffa300,#ffc500,#fdef00,#d7ff20,#a7ff50,#68ff8f,#0ef7e8,#0089ff)"></i><i style="background:linear-gradient(90deg,#0095ff,#1affdc,#75ff82,#b4ff43,#e3ff13,#ffe000,#ffb700,#ff9700,#ff8c00,#ff9700,#ffbc00,#ffe500,#f2fb05,#e9ff0e,#e5ff12,#e9ff0e,#f2fb05,#ffe500,#ffbc00,#ff9700,#ff8c00,#ff9700,#ffb700,#ffe000,#e3ff13,#b4ff43,#75ff82,#1affdc,#0095ff)"></i><i style="background:linear-gradient(90deg,#00a1ff,#27ffd0,#83ff74,#c1ff35,#f1fc06,#ffd000,#ffa800,#ff8a00,#ff8200,#ff8f00,#ffb500,#ffdf00,#f5f802,#ebff0c,#e7ff10,#ebff0c,#f5f802,#ffdf00,#ffb500,#ff8f00,#ff8200,#ff8a00,#ffa800,#ffd000,#f1fc06,#c1ff35,#83ff74,#27ffd0,#00a1ff)"></i><i style="background:linear-gradient(90deg,#00adff,#33ffc4,#90ff66,#cfff27,#ffec00,#ffc000,#ff9800,#ff7c00,#ff7700,#ff8700,#ffae00,#ffda00,#f7f500,#ebff0b,#e7ff0f,#ebff0b,#f7f500,#ffda00,#ffae00,#ff8700,#ff7700,#ff7c00,#ff9800,#ffc000,#ffec00,#cfff27,#90ff66,#33ffc4,#00adff)"></i><i style="background:linear-gradient(90deg,#00b9ff,#3fffb8,#9eff58,#deff19,#ffdb00,#ffae00,#ff8700,#ff6e00,#ff6c00,#ff7e00,#ffa800,#ffd600,#f8f400,#ecff0b,#e7ff0f,#ecff0b,#f8f400,#ffd600,#ffa800,#ff7e00,#ff6c00,#ff6e00,#ff8700,#ffae00,#ffdb00,#deff19,#9eff58,#3fffb8,#00b9ff)"></i><i style="background:linear-gradient(90deg,#00c5ff,#4bffac,#adff4a,#edff09,#ffc900,#ff9b00,#ff7400,#ff5e00,#ff6000,#ff7500,#ffa100,#ffd300,#faf200,#ecff0b,#e7ff10,#ecff0b,#faf200,#ffd300,#ffa100,#ff7500,#ff6000,#ff5e00,#ff7400,#ff9b00,#ffc900,#edff09,#adff4a,#4bffac,#00c5ff)"></i><i style="background:linear-gradient(90deg,#00d1ff,#57ffa0,#bbff3b,#fdee00,#ffb600,#ff8600,#ff6100,#ff4e00,#ff5300,#ff6c00,#ff9b00,#ffd000,#faf100,#ebff0b,#e6ff11,#ebff0b,#faf100,#ffd000,#ff9b00,#ff6c00,#ff5300,#ff4e00,#ff6100,#ff8600,#ffb600,#fdee00,#bbff3b,#57ffa0,#00d1ff)"></i><i style="background:linear-gradient(90deg,#00dcfe,#63ff94,#caff2d,#ffdb00,#ffa300,#ff7100,#ff4e00,#ff3e00,#ff4700,#ff6500,#ff9700,#ffcd00,#fbf100,#ebff0c,#e5ff12,#ebff0c,#fbf100,#ffcd00,#ff9700,#ff6500,#ff4700,#ff3e00,#ff4e00,#ff7100,#ffa300,#ffdb00,#caff2d,#63ff94,#00dcfe)"></i><i style="background:linear-gradient(90deg,#01e7f6,#6fff88,#daff1d,#ffc700,#ff8e00,#ff5d00,#ff3c00,#ff3100,#ff3e00,#ff6000,#ff9400,#ffcd00,#fbf100,#e9ff0e,#e2ff15,#e9ff0e,#fbf100,#ffcd00,#ff9400,#ff6000,#ff3e00,#ff3100,#ff3c00,#ff5d00,#ff8e00,#ffc700,#daff1d,#6fff88,#01e7f6)"></i><i style="background:linear-gradient(90deg,#09f1ed,#7aff7d,#e9ff0d,#ffb100,#ff7800,#ff4900,#ff2c00,#ff2600,#ff3700,#ff5d00,#ff9400,#ffcf00,#f7f500,#e5ff12,#ddff1a,#e5ff12,#f7f500,#ffcf00,#ff9400,#ff5d00,#ff3700,#ff2600,#ff2c00,#ff4900,#ff7800,#ffb100,#e9ff0d,#7aff7d,#09f1ed)"></i><i style="background:linear-gradient(90deg,#11fbe6,#85ff72,#faf200,#ff9900,#ff5f00,#ff3500,#ff1e00,#ff1d00,#ff3200,#ff5d00,#ff9800,#ffd500,#f0fd07,#dcff1b,#d4ff23,#dcff1b,#f0fd07,#ffd500,#ff9800,#ff5d00,#ff3200,#ff1d00,#ff1e00,#ff3500,#ff5f00,#ff9900,#faf200,#85ff72,#11fbe6)"></i><i style="background:linear-gradient(90deg,#19ffde,#8fff68,#ffdf00,#ff8100,#ff4700,#ff2200,#fe1200,#ff1500,#ff2e00,#ff5d00,#ff9d00,#ffde00,#e4ff12,#cfff28,#c7ff30,#cfff28,#e4ff12,#ffde00,#ff9d00,#ff5d00,#ff2e00,#ff1500,#fe1200,#ff2200,#ff4700,#ff8100,#ffdf00,#8fff68,#19ffde)"></i><i style="background:linear-gradient(90deg,#1fffd8,#99ff5d,#ffcd00,#ff6b00,#ff3200,#fe1200,#f20800,#fb1000,#ff2b00,#ff5f00,#ffa400,#ffe900,#d7ff1f,#c0ff37,#b7ff3f,#c0ff37,#d7ff1f,#ffe900,#ffa400,#ff5f00,#ff2b00,#fb1000,#f20800,#fe1200,#ff3200,#ff6b00,#ffcd00,#99ff5d,#1fffd8)"></i><i style="background:linear-gradient(90deg,#25ffd2,#a3ff54,#ffbd00,#ff5900,#ff2300,#f10700,#e80100,#f60c00,#ff2b00,#ff6100,#ffaa00,#f8f400,#caff2d,#b0ff46,#a7ff4f,#b0ff46,#caff2d,#f8f400,#ffaa00,#ff6100,#ff2b00,#f60c00,#e80100,#f10700,#ff2300,#ff5900,#ffbd00,#a3ff54,#25ffd2)"></i><i style="background:linear-gradient(90deg,#2affcd,#adff4a,#ffaf00,#ff4b00,#ff1700,#e70000,#e10000,#f30900,#ff2b00,#ff6400,#ffb100,#effe08,#bdff3a,#a0ff56,#96ff60,#a0ff56,#bdff3a,#effe08,#ffb100,#ff6400,#ff2b00,#f30900,#e10000,#e70000,#ff1700,#ff4b00,#ffaf00,#adff4a,#2affcd)"></i><i style="background:linear-gradient(90deg,#2fffc8,#b6ff41,#ffa100,#ff3f00,#f90e00,#df0000,#db0000,#f00700,#ff2c00,#ff6900,#ffb900,#e6ff11,#b0ff47,#90ff67,#84ff73,#90ff67,#b0ff47,#e6ff11,#ffb900,#ff6900,#ff2c00,#f00700,#db0000,#df0000,#f90e00,#ff3f00,#ffa100,#b6ff41,#2fffc8)"></i><i style="background:linear-gradient(90deg,#34ffc3,#beff38,#ff9500,#ff3300,#ef0600,#d80000,#d60000,#ee0500,#ff2e00,#ff6e00,#ffc100,#dbff1c,#a1ff55,#7eff79,#71ff86,#7eff79,#a1ff55,#dbff1c,#ffc100,#ff6e00,#ff2e00,#ee0500,#d60000,#d80000,#ef0600,#ff3300,#ff9500,#beff38,#34ffc3)"></i><i style="background:linear-gradient(90deg,#38ffbf,#c7ff2f,#ff8800,#ff2900,#e60000,#d20000,#d20000,#ed0400,#ff3000,#ff7400,#ffcb00,#d0ff27,#93ff64,#6cff8b,#5eff99,#6cff8b,#93ff64,#d0ff27,#ffcb00,#ff7400,#ff3000,#ed0400,#d20000,#d20000,#e60000,#ff2900,#ff8800,#c7ff2f,#38ffbf)"></i><i style="background:linear-gradient(90deg,#3dffba,#d0ff26,#ff7c00,#ff1f00,#dd0000,#cc0000,#cf0000,#ed0400,#ff3300,#ff7b00,#ffd500,#c4ff33,#83ff74,#5aff9d,#4affad,#5aff9d,#83ff74,#c4ff33,#ffd500,#ff7b00,#ff3300,#ed0400,#cf0000,#cc0000,#dd0000,#ff1f00,#ff7c00,#d0ff26,#3dffba)"></i><i style="background:linear-gradient(90deg,#42ffb4,#daff1d,#ff7000,#ff1400,#d40000,#c60000,#cd0000,#ed0400,#ff3700,#ff8400,#ffe200,#b6ff41,#73ff84,#47ffaf,#37ffc0,#47ffaf,#73ff84,#b6ff41,#ffe200,#ff8400,#ff3700,#ed0400,#cd0000,#c60000,#d40000,#ff1400,#ff7000,#daff1d,#42ffb4)"></i><i style="background:linear-gradient(90deg,#48ffaf,#e3ff14,#ff6400,#f40a00,#ca0000,#c10000,#cc0000,#ef0600,#ff3d00,#ff8f00,#fbf100,#a7ff50,#62ff95,#35ffc2,#25ffd2,#35ffc2,#62ff95,#a7ff50,#fbf100,#ff8f00,#ff3d00,#ef0600,#cc0000,#c10000,#ca0000,#f40a00,#ff6400,#e3ff14,#48ffaf)"></i><i style="background:linear-gradient(90deg,#4effa8,#edff0a,#ff5800,#e80000,#c00000,#bb0000,#cb0000,#f30900,#ff4400,#ff9c00,#ecff0b,#95ff61,#4fffa7,#23ffd4,#12fce5,#23ffd4,#4fffa7,#95ff61,#ecff0b,#ff9c00,#ff4400,#f30900,#cb0000,#bb0000,#c00000,#e80000,#ff5800,#edff0a,#4effa8)"></i><i style="background:linear-gradient(90deg,#55ffa2,#f6f601,#ff4d00,#dc0000,#b70000,#b60000,#cb0000,#f70d00,#ff4d00,#ffab00,#dbff1c,#82ff74,#3cffbb,#10f9e7,#00e4f8,#10f9e7,#3cffbb,#82ff74,#dbff1c,#ffab00,#ff4d00,#f70d00,#cb0000,#b60000,#b70000,#dc0000,#ff4d00,#f6f601,#55ffa2)"></i><i style="background:linear-gradient(90deg,#5bff9c,#ffeb00,#ff4200,#d20000,#b00000,#b20000,#cb0000,#fd1100,#ff5800,#ffbb00,#c8ff2f,#6eff89,#28ffcf,#00e1fb,#00ccff,#00e1fb,#28ffcf,#6eff89,#c8ff2f,#ffbb00,#ff5800,#fd1100,#cb0000,#b20000,#b00000,#d20000,#ff4200,#ffeb00,#5bff9c)"></i><i style="background:linear-gradient(90deg,#61ff96,#ffe100,#ff3700,#ca0000,#ab0000,#af0000,#cb0000,#ff1600,#ff6300,#ffcd00,#b4ff43,#58ff9f,#12fce5,#00c6ff,#00b2ff,#00c6ff,#12fce5,#58ff9f,#b4ff43,#ffcd00,#ff6300,#ff1600,#cb0000,#af0000,#ab0000,#ca0000,#ff3700,#ffe100,#61ff96)"></i><i style="background:linear-gradient(90deg,#66ff91,#ffd600,#ff2d00,#c20000,#a80000,#af0000,#cd0000,#ff1c00,#ff7000,#ffe100,#9eff59,#3fffb8,#00defd,#00a9ff,#0096ff,#00a9ff,#00defd,#3fffb8,#9eff59,#ffe100,#ff7000,#ff1c00,#cd0000,#af0000,#a80000,#c20000,#ff2d00,#ffd600,#66ff91)"></i><i style="background:linear-gradient(90deg,#6cff8b,#ffcc00,#ff2300,#bc0000,#a70000,#af0000,#d00000,#ff2300,#ff7e00,#f6f601,#85ff72,#23ffd4,#00bbff,#0089ff,#0075ff,#0089ff,#00bbff,#23ffd4,#85ff72,#f6f601,#ff7e00,#ff2300,#d00000,#af0000,#a70000,#bc0000,#ff2300,#ffcc00,#6cff8b)"></i><i style="background:linear-gradient(90deg,#71ff86,#ffc100,#ff1a00,#b60000,#a60000,#b10000,#d60000,#ff2d00,#ff8e00,#e1ff15,#6aff8d,#04ebf2,#0096ff,#0065ff,#0053ff,#0065ff,#0096ff,#04ebf2,#6aff8d,#e1ff15,#ff8e00,#ff2d00,#d60000,#b10000,#a60000,#b60000,#ff1a00,#ffc100,#71ff86)"></i><i style="background:linear-gradient(90deg,#76ff81,#ffb700,#fc1100,#b10000,#a50000,#b30000,#dc0000,#ff3800,#ffa100,#caff2c,#4dffaa,#00c4ff,#0071ff,#0043ff,#0031ff,#0043ff,#0071ff,#00c4ff,#4dffaa,#caff2c,#ffa100,#ff3800,#dc0000,#b30000,#a50000,#b10000,#fc1100,#ffb700,#76ff81)"></i><i style="background:linear-gradient(90deg,#7aff7c,#ffae00,#f30900,#ad0000,#a50000,#b50000,#e40000,#ff4500,#ffb600,#b1ff46,#30ffc7,#009eff,#004eff,#0023ff,#0012ff,#0023ff,#004eff,#009eff,#30ffc7,#b1ff46,#ffb600,#ff4500,#e40000,#b50000,#a50000,#ad0000,#f30900,#ffae00,#7aff7c)"></i><i style="background:linear-gradient(90deg,#7fff78,#ffa600,#ec0400,#aa0000,#a50000,#b80000,#ee0500,#ff5500,#ffcf00,#95ff62,#12fbe5,#007bff,#0030ff,#0009ff,#0000ff,#0009ff,#0030ff,#007bff,#12fbe5,#95ff62,#ffcf00,#ff5500,#ee0500,#b80000,#a50000,#aa0000,#ec0400,#ffa600,#7fff78)"></i><i style="background:linear-gradient(90deg,#83ff73,#ff9f00,#e80000,#a90000,#a60000,#bd0000,#fa0f00,#ff6a00,#fcef00,#75ff82,#00d6ff,#005cff,#0018ff,#0000ff,#0000f5,#0000ff,#0018ff,#005cff,#00d6ff,#75ff82,#fcef00,#ff6a00,#fa0f00,#bd0000,#a60000,#a90000,#e80000,#ff9f00,#83ff73)"></i><i style="background:linear-gradient(90deg,#88ff6f,#ff9900,#e40000,#aa0000,#a80000,#c40000,#ff1d00,#ff8500,#d9ff1e,#4effa9,#00adff,#003fff,#0004ff,#0000f2,#0000e5,#0000f2,#0004ff,#003fff,#00adff,#4effa9,#d9ff1e,#ff8500,#ff1d00,#c40000,#a80000,#aa0000,#e40000,#ff9900,#88ff6f)"></i><i style="background:linear-gradient(90deg,#8cff6b,#ff9300,#e20000,#ab0000,#ac0000,#cd0000,#ff2e00,#ffa700,#adff49,#22ffd5,#0084ff,#0024ff,#0000ff,#0000e3,#0000d8,#0000e3,#0000ff,#0024ff,#0084ff,#22ffd5,#adff49,#ffa700,#ff2e00,#cd0000,#ac0000,#ab0000,#e20000,#ff9300,#8cff6b)"></i><i style="background:linear-gradient(90deg,#90ff67,#ff8d00,#e00000,#ae0000,#b20000,#d90000,#ff4400,#ffcf00,#7eff79,#00d7ff,#005bff,#000bff,#0000ef,#0000d7,#0000ce,#0000d7,#0000ef,#000bff,#005bff,#00d7ff,#7eff79,#ffcf00,#ff4400,#d90000,#b20000,#ae0000,#e00000,#ff8d00,#90ff67)"></i><i style="background:linear-gradient(90deg,#93ff63,#ff8900,#df0000,#b00000,#b90000,#e80000,#ff5d00,#f3fa04,#4fffa8,#00a2ff,#0036ff,#0000ff,#0000e0,#0000cc,#0000c5,#0000cc,#0000e0,#0000ff,#0036ff,#00a2ff,#4fffa8,#f3fa04,#ff5d00,#e80000,#b90000,#b00000,#df0000,#ff8900,#93ff63)"></i><i style="background:linear-gradient(90deg,#95ff62,#ff8700,#df0000,#b40000,#c20000,#fb1000,#ff7a00,#ccff2b,#23ffd4,#0074ff,#0018ff,#0000f0,#0000d4,#0000c4,#0000be,#0000c4,#0000d4,#0000f0,#0018ff,#0074ff,#23ffd4,#ccff2b,#ff7a00,#fb1000,#c20000,#b40000,#df0000,#ff8700,#95ff62)"></i><i style="background:linear-gradient(90deg,#95ff62,#ff8800,#e20000,#bb0000,#cf0000,#ff2500,#ff9f00,#a3ff54,#00e0fb,#004fff,#0000ff,#0000e1,#0000ca,#0000be,#0000b9,#0000be,#0000ca,#0000e1,#0000ff,#004fff,#00e0fb,#a3ff54,#ff9f00,#ff2500,#cf0000,#bb0000,#e20000,#ff8800,#95ff62)"></i><i style="background:linear-gradient(90deg,#93ff64,#ff8c00,#eb0200,#c70000,#e30000,#ff4500,#ffcf00,#75ff82,#00b3ff,#002fff,#0000f8,#0000d4,#0000c3,#0000b9,#0000b6,#0000b9,#0000c3,#0000d4,#0000f8,#002fff,#00b3ff,#75ff82,#ffcf00,#ff4500,#e30000,#c70000,#eb0200,#ff8c00,#93ff64)"></i><i style="background:linear-gradient(90deg,#8fff68,#ff9400,#f80e00,#d90000,#ff1300,#ff6e00,#e7ff10,#43ffb3,#0089ff,#0014ff,#0000e4,#0000c9,#0000bc,#0000b5,#0000b2,#0000b5,#0000bc,#0000c9,#0000e4,#0014ff,#0089ff,#43ffb3,#e7ff10,#ff6e00,#ff1300,#d90000,#f80e00,#ff9400,#8fff68)"></i><i style="background:linear-gradient(90deg,#89ff6e,#ffa000,#ff1e00,#f10700,#ff3000,#ff9d00,#b1ff46,#13fde4,#0062ff,#0000ff,#0000d5,#0000c1,#0000b7,#0000b2,#0000b0,#0000b2,#0000b7,#0000c1,#0000d5,#0000ff,#0062ff,#13fde4,#b1ff46,#ff9d00,#ff3000,#f10700,#ff1e00,#ffa000,#89ff6e)"></i><i style="background:linear-gradient(90deg,#80ff76,#ffb100,#ff3500,#ff2200,#ff5300,#ffcf00,#7eff79,#00c6ff,#003fff,#0000f9,#0000cb,#0000bc,#0000b5,#0000b0,#0000af,#0000b0,#0000b5,#0000bc,#0000cb,#0000f9,#003fff,#00c6ff,#7eff79,#ffcf00,#ff5300,#ff2200,#ff3500,#ffb100,#80ff76)"></i><i style="background:linear-gradient(90deg,#71ff86,#ffcf00,#ff5900,#ff4700,#ff7f00,#ebff0c,#4fffa7,#0099ff,#0022ff,#0000eb,#0000c7,#0000ba,#0000b4,#0000b0,#0000ae,#0000b0,#0000b4,#0000ba,#0000c7,#0000eb,#0022ff,#0099ff,#4fffa7,#ebff0c,#ff7f00,#ff4700,#ff5900,#ffcf00,#71ff86)"></i><i style="background:linear-gradient(90deg,#58ff9f,#edff0a,#ff9100,#ff7e00,#ffb700,#baff3d,#25ffd2,#0072ff,#000aff,#0000e0,#0000c6,#0000ba,#0000b3,#0000af,#0000ae,#0000af,#0000b3,#0000ba,#0000c6,#0000e0,#000aff,#0072ff,#25ffd2,#baff3d,#ffb700,#ff7e00,#ff9100,#edff0a,#58ff9f)"></i><i style="background:linear-gradient(90deg,#33ffc3,#b2ff45,#ffde00,#ffc900,#eeff08,#83ff74,#00dffc,#0051ff,#0000ff,#0000d8,#0000c5,#0000ba,#0000b3,#0000af,#0000ae,#0000af,#0000b3,#0000ba,#0000c5,#0000d8,#0000ff,#0051ff,#00dffc,#83ff74,#eeff08,#ffc900,#ffde00,#b2ff45,#33ffc3)"></i><i style="background:linear-gradient(90deg,#05ecf1,#6cff8b,#baff3d,#cbff2b,#a2ff55,#44ffb2,#00abff,#0033ff,#0000f5,#0000d2,#0000c3,#0000ba,#0000b3,#0000af,#0000ae,#0000af,#0000b3,#0000ba,#0000c3,#0000d2,#0000f5,#0033ff,#00abff,#44ffb2,#a2ff55,#cbff2b,#baff3d,#6cff8b,#05ecf1)"></i><i style="background:linear-gradient(90deg,#00adff,#22ffd4,#61ff95,#71ff86,#50ffa7,#05ebf2,#0078ff,#0018ff,#0000e8,#0000cd,#0000c1,#0000b9,#0000b3,#0000af,#0000ae,#0000af,#0000b3,#0000b9,#0000c1,#0000cd,#0000e8,#0018ff,#0078ff,#05ebf2,#50ffa7,#71ff86,#61ff95,#22ffd4,#00adff)"></i><i style="background:linear-gradient(90deg,#0072ff,#00bdff,#11fbe6,#1fffd8,#08efef,#00a9ff,#004dff,#0002ff,#0000df,#0000ca,#0000bf,#0000b8,#0000b2,#0000af,#0000ae,#0000af,#0000b2,#0000b8,#0000bf,#0000ca,#0000df,#0002ff,#004dff,#00a9ff,#08efef,#1fffd8,#11fbe6,#00bdff,#0072ff)"></i><i style="background:linear-gradient(90deg,#0042ff,#0079ff,#00aaff,#00bbff,#00abff,#0076ff,#002bff,#0000fd,#0000d8,#0000c7,#0000be,#0000b7,#0000b2,#0000af,#0000ae,#0000af,#0000b2,#0000b7,#0000be,#0000c7,#0000d8,#0000fd,#002bff,#0076ff,#00abff,#00bbff,#00aaff,#0079ff,#0042ff)"></i><i style="background:linear-gradient(90deg,#001bff,#0044ff,#006cff,#007eff,#0077ff,#004fff,#0010ff,#0000eb,#0000d2,#0000c5,#0000bc,#0000b6,#0000b2,#0000af,#0000ae,#0000af,#0000b2,#0000b6,#0000bc,#0000c5,#0000d2,#0000eb,#0010ff,#004fff,#0077ff,#007eff,#006cff,#0044ff,#001bff)"></i><i style="background:linear-gradient(90deg,#0000ff,#001dff,#003fff,#0051ff,#004eff,#002fff,#0000ff,#0000dd,#0000cc,#0000c2,#0000ba,#0000b5,#0000b1,#0000af,#0000ae,#0000af,#0000b1,#0000b5,#0000ba,#0000c2,#0000cc,#0000dd,#0000ff,#002fff,#004eff,#0051ff,#003fff,#001dff,#0000ff)"></i><i style="background:linear-gradient(90deg,#0000f5,#0000ff,#001eff,#002eff,#002cff,#0013ff,#0000f4,#0000d0,#0000c4,#0000bd,#0000b8,#0000b3,#0000b0,#0000af,#0000ae,#0000af,#0000b0,#0000b3,#0000b8,#0000bd,#0000c4,#0000d0,#0000f4,#0013ff,#002cff,#002eff,#001eff,#0000ff,#0000f5)"></i><i style="background:linear-gradient(90deg,#0000e1,#0000f8,#0005ff,#0014ff,#0012ff,#0000ff,#0000e3,#0000c6,#0000bd,#0000b9,#0000b5,#0000b2,#0000b0,#0000ae,#0000ae,#0000ae,#0000b0,#0000b2,#0000b5,#0000b9,#0000bd,#0000c6,#0000e3,#0000ff,#0012ff,#0014ff,#0005ff,#0000f8,#0000e1)"></i><i style="background:linear-gradient(90deg,#0000d3,#0000e7,#0000ff,#0002ff,#0001ff,#0000fc,#0000d7,#0000c0,#0000b9,#0000b5,#0000b3,#0000b0,#0000af,#0000ae,#0000ae,#0000ae,#0000af,#0000b0,#0000b3,#0000b5,#0000b9,#0000c0,#0000d7,#0000fc,#0001ff,#0002ff,#0000ff,#0000e7,#0000d3)"></i><i style="background:linear-gradient(90deg,#0000cb,#0000de,#0000f8,#0000ff,#0000ff,#0000f3,#0000d2,#0000be,#0000b8,#0000b5,#0000b2,#0000b0,#0000af,#0000ae,#0000ae,#0000ae,#0000af,#0000b0,#0000b2,#0000b5,#0000b8,#0000be,#0000d2,#0000f3,#0000ff,#0000ff,#0000f8,#0000de,#0000cb)"></i><i style="background:linear-gradient(90deg,#0000c7,#0000d9,#0000f1,#0000ff,#0000ff,#0000f0,#0000d0,#0000c0,#0000b9,#0000b5,#0000b3,#0000b0,#0000af,#0000ae,#0000ae,#0000ae,#0000af,#0000b0,#0000b3,#0000b5,#0000b9,#0000c0,#0000d0,#0000f0,#0000ff,#0000ff,#0000f1,#0000d9,#0000c7)"></i><i style="background:linear-gradient(90deg,#0000c4,#0000d5,#0000ec,#0000fe,#0000ff,#0000ed,#0000d0,#0000c2,#0000bb,#0000b7,#0000b3,#0000b1,#0000af,#0000ae,#0000ae,#0000ae,#0000af,#0000b1,#0000b3,#0000b7,#0000bb,#0000c2,#0000d0,#0000ed,#0000ff,#0000fe,#0000ec,#0000d5,#0000c4)"></i><i style="background:linear-gradient(90deg,#0000c0,#0000d0,#0000e4,#0000f6,#0000fe,#0000e8,#0000cd,#0000c2,#0000bc,#0000b7,#0000b4,#0000b1,#0000af,#0000ae,#0000ae,#0000ae,#0000af,#0000b1,#0000b4,#0000b7,#0000bc,#0000c2,#0000cd,#0000e8,#0000fe,#0000f6,#0000e4,#0000d0,#0000c0)"></i><i style="background:linear-gradient(90deg,#0000ba,#0000c6,#0000d6,#0000e5,#0000ed,#0000db,#0000c6,#0000be,#0000b9,#0000b5,#0000b2,#0000af,#0000ae,#0000ad,#0000ad,#0000ad,#0000ae,#0000af,#0000b2,#0000b5,#0000b9,#0000be,#0000c6,#0000db,#0000ed,#0000e5,#0000d6,#0000c6,#0000ba)"></i><i style="background:linear-gradient(90deg,#0000b4,#0000bc,#0000c6,#0000d0,#0000d7,#0000ca,#0000bc,#0000b7,#0000b4,#0000b1,#0000af,#0000ad,#0000ac,#0000ab,#0000ab,#0000ab,#0000ac,#0000ad,#0000af,#0000b1,#0000b4,#0000b7,#0000bc,#0000ca,#0000d7,#0000d0,#0000c6,#0000bc,#0000b4)"></i></div>
<svg width="1080" height="701" viewBox="0 0 1080 701">
<defs>
<pattern id="hatch" width="10.2" height="10.3" patternUnits="userSpaceOnUse" x="254.1" y="461.6">
<rect width="10.2" height="10.3" fill="#e8f5fa"/>
<path d="M0 0L10.2 10.3M10.2 0L0 10.3" stroke="#7f929b" stroke-width="1.15" fill="none"/>
</pattern>
<pattern id="hatch2" width="10.3" height="10.3" patternUnits="userSpaceOnUse" x="751.8" y="462.2">
<rect width="10.3" height="10.3" fill="#e8f5fa"/>
<path d="M0 0L10.3 10.3M10.3 0L0 10.3" stroke="#7f929b" stroke-width="1.15" fill="none"/>
</pattern>
<linearGradient id="beam306" gradientUnits="userSpaceOnUse" x1="314.1" y1="257.0" x2="410.7" y2="304.8"><stop offset="0" stop-color="#f7eeef"/><stop offset="1" stop-color="#efd6d8"/></linearGradient>
<linearGradient id="beam801" gradientUnits="userSpaceOnUse" x1="808.9" y1="255.9" x2="908.1" y2="306.1"><stop offset="0" stop-color="#f7eeef"/><stop offset="1" stop-color="#efd6d8"/></linearGradient>
<radialGradient id="cgl"><stop offset="0" stop-color="#85807e"/><stop offset=".32" stop-color="#7a7c86"/><stop offset=".44" stop-color="#71809c"/><stop offset=".52" stop-color="#98b2d6"/><stop offset=".66" stop-color="#adc5e4"/><stop offset=".85" stop-color="#a6bfde"/><stop offset="1" stop-color="#b4c9e3"/></radialGradient>
<radialGradient id="cgr"><stop offset="0" stop-color="#85807e"/><stop offset=".3" stop-color="#7a7c86"/><stop offset=".44" stop-color="#6f7f9c"/><stop offset=".53" stop-color="#9ab3d5"/><stop offset=".68" stop-color="#b3c8e4"/><stop offset=".86" stop-color="#a4bcda"/><stop offset="1" stop-color="#b6cae2"/></radialGradient>
</defs>
<!-- top title -->
<text class="big" x="558.5" y="55" text-anchor="middle">Convertible</text>
<text class="big" x="558.5" y="101.5" text-anchor="middle">CPC</text>
<!-- boxes -->
<rect x="215.0" y="104.6" width="187.7" height="59.6" fill="none" stroke="#0a0a0a" stroke-width="3.3" stroke-linejoin="round"/>
<text class="big" x="309" y="149.5" text-anchor="middle">Butanol</text>
<rect x="709" y="104.9" width="181.2" height="59.2" fill="none" stroke="#0a0a0a" stroke-width="3.3" stroke-linejoin="round"/>
<text class="big" x="800" y="149.3" text-anchor="middle">Water</text>
<!-- double arrows -->
<g stroke="#3a3a3a" stroke-linecap="round" stroke-linejoin="round" fill="none">
<path d="M644 121.9H478" stroke-width="6"/>
<path d="M509.5 106.5L477 121.9L509 137" stroke-width="8"/>
<path d="M475.5 157.8H642" stroke-width="6"/>
<path d="M611 142.5L643 157.8L611 172.5" stroke-width="8"/>
</g>

<!-- ===== LEFT apparatus ===== -->
<g stroke="#2a2a2a" stroke-width="2.7" fill="none" stroke-linecap="butt" stroke-linejoin="round">
<path d="M285 206.2H227.1V298.8H285.3"/>
<path d="M324.3 206.2H390.5V290"/>
<path d="M325 298.8H391"/>
</g>
<rect x="372.8" y="233.7" width="16.2" height="35" fill="#777"/>
<path d="M313.7 257.8L409.3 307.8L412.2 301.9L314.5 256.2 Z" fill="url(#beam306)"/>
<rect x="-10" y="-6.5" width="20" height="13" fill="#777" transform="translate(416.1 307.5) rotate(30)"/>
<g>
<circle cx="306" cy="215" r="8.8" fill="url(#cgl)"/>
<circle cx="306" cy="252.8" r="8.8" fill="url(#cgl)"/>
<circle cx="306" cy="290.2" r="8.8" fill="url(#cgl)"/>
</g>
<!-- condenser -->
<rect x="254.2" y="299" width="4.8" height="162.2" fill="#1c6cb2"/>
<rect x="354.5" y="299" width="4.8" height="162.2" fill="#1c6cb2"/>
<rect x="259" y="299" width="20" height="163" fill="#cecece"/>
<rect x="335" y="299" width="19.5" height="163" fill="#cecece"/>
<!-- saturator -->
<rect x="258.7" y="463" width="20.3" height="145.4" fill="url(#hatch)"/>
<rect x="335" y="463" width="19.6" height="145.4" fill="url(#hatch)"/>
<line x1="258.7" y1="462.85" x2="279" y2="462.85" stroke="#8f8f8f" stroke-width="1.2"/>
<line x1="335" y1="462.85" x2="354.6" y2="462.85" stroke="#8f8f8f" stroke-width="1.2"/>
<line x1="258.7" y1="608.5" x2="279" y2="608.5" stroke="#8a8a8a" stroke-width="1.4"/>
<line x1="335" y1="608.5" x2="354.6" y2="608.5" stroke="#8a8a8a" stroke-width="1.4"/>
<rect x="254.2" y="463.1" width="4.5" height="145.9" fill="#ad1419"/>
<rect x="354.6" y="463.1" width="4.7" height="145.9" fill="#ad1419"/>
<!-- wick arrow -->
<line x1="344.6" y1="540.5" x2="373" y2="540.5" stroke="#7f7f7f" stroke-width="2.4"/>
<path d="M381.6 540.5L370 535.8V545.2Z" fill="#7f7f7f"/>
<!-- up arrow -->
<path d="M310.3 616L293.3 633H302.2V673H319.3V633H327.6Z" fill="#fff" stroke="#868686" stroke-width="1.5" stroke-linejoin="miter"/>

<!-- ===== RIGHT apparatus ===== -->
<g stroke="#2a2a2a" stroke-width="2.7" fill="none" stroke-linecap="butt" stroke-linejoin="round">
<path d="M782.7 207.4H724.6V299.4H783"/>
<path d="M820.4 207.4H882.6V289.3"/>
<path d="M821 299.4H883.5V296.5"/>
</g>
<rect x="864.9" y="235.7" width="16.9" height="35.5" fill="#777"/>
<path d="M808.5 256.7L906.7 309.0L909.6 303.2L809.3 255.1 Z" fill="url(#beam801)"/>
<rect x="-10" y="-6.5" width="20" height="13" fill="#777" transform="translate(913.5 308.8) rotate(30)"/>
<g>
<circle cx="801.7" cy="215" r="7.5" fill="url(#cgr)"/>
<circle cx="801.7" cy="252.3" r="7.5" fill="url(#cgr)"/>
<circle cx="801.7" cy="288.8" r="7.5" fill="url(#cgr)"/>
</g>
<rect x="748.4" y="299" width="5" height="164.3" fill="#1c6cb2"/>
<rect x="849.3" y="299" width="4.9" height="164.3" fill="#1c6cb2"/>
<rect x="753.4" y="299" width="19.6" height="164.5" fill="#cecece"/>
<rect x="827" y="299" width="22.3" height="164.5" fill="#cecece"/>
<rect x="753.4" y="464" width="19.6" height="145" fill="url(#hatch2)"/>
<rect x="827" y="464" width="22" height="145" fill="url(#hatch2)"/>
<line x1="753.4" y1="464.1" x2="773" y2="464.1" stroke="#787878" stroke-width="1.2"/>
<line x1="827" y1="464.1" x2="849" y2="464.1" stroke="#787878" stroke-width="1.2"/>
<line x1="753.4" y1="608.9" x2="773" y2="608.9" stroke="#8a8a8a" stroke-width="1.4"/>
<line x1="827" y1="608.9" x2="849" y2="608.9" stroke="#8a8a8a" stroke-width="1.4"/>
<rect x="748.3" y="463.6" width="4.9" height="146" fill="#ad1419"/>
<rect x="849" y="463.6" width="5" height="146" fill="#ad1419"/>
<!-- saturation ratio arrow -->
<line x1="817.2" y1="386.4" x2="886" y2="386.4" stroke="#7f7f7f" stroke-width="2.4"/>
<path d="M894.6 386.4L883 381.4V391.4Z" fill="#7f7f7f"/>
<!-- wick arrow -->
<line x1="841" y1="540.4" x2="870" y2="540.4" stroke="#7f7f7f" stroke-width="2.4"/>
<path d="M878.2 540.4L866.6 535.7V545.1Z" fill="#7f7f7f"/>
<path d="M801.3 616.9L784.3 634H792.4V673.7H810.4V634H819Z" fill="#fff" stroke="#868686" stroke-width="1.5" stroke-linejoin="miter"/>

<!-- labels left -->
<text class="lab" x="23.6" y="250.8">Laser power: 5 mW</text>
<text class="lab" x="27" y="394.9">Condenser: 17.5 <tspan class="deg" dx="0.8" dy="-0.4">℃</tspan></text>
<text class="lab" x="33" y="548.8">Saturator: 39.0 <tspan class="deg" dx="0.8" dy="-0.4">℃</tspan></text>
<text class="lab" x="385.5" y="534.6">Wick with</text>
<text class="lab" x="385.3" y="561.6">butanol</text>
<text class="sm" x="167.5" y="650.6">Aerosol flow</text>
<text class="sm" x="332.2" y="650.6">0.3 LPM</text>
<!-- labels right -->
<text class="lab" x="507.8" y="250.8">Laser power: 25 mW</text>
<text class="lab" x="539" y="394.9">Condenser: 5.0 <tspan class="deg" dx="0.8" dy="-0.4">℃</tspan></text>
<text class="lab" x="896.8" y="394.6">Saturation ratio</text>
<text class="lab" x="546" y="548.6">Saturator: 41.5 <tspan class="deg" dx="0.8" dy="-0.4">℃</tspan></text>
<text class="lab" x="890.2" y="534.6">Wick with</text>
<text class="lab" x="890.2" y="561.6">water</text>
<text class="sm" x="664.3" y="650.6">Aerosol flow</text>
<text class="sm" x="829" y="650.6">0.3 LPM</text>
</svg>
</div></body></html>
